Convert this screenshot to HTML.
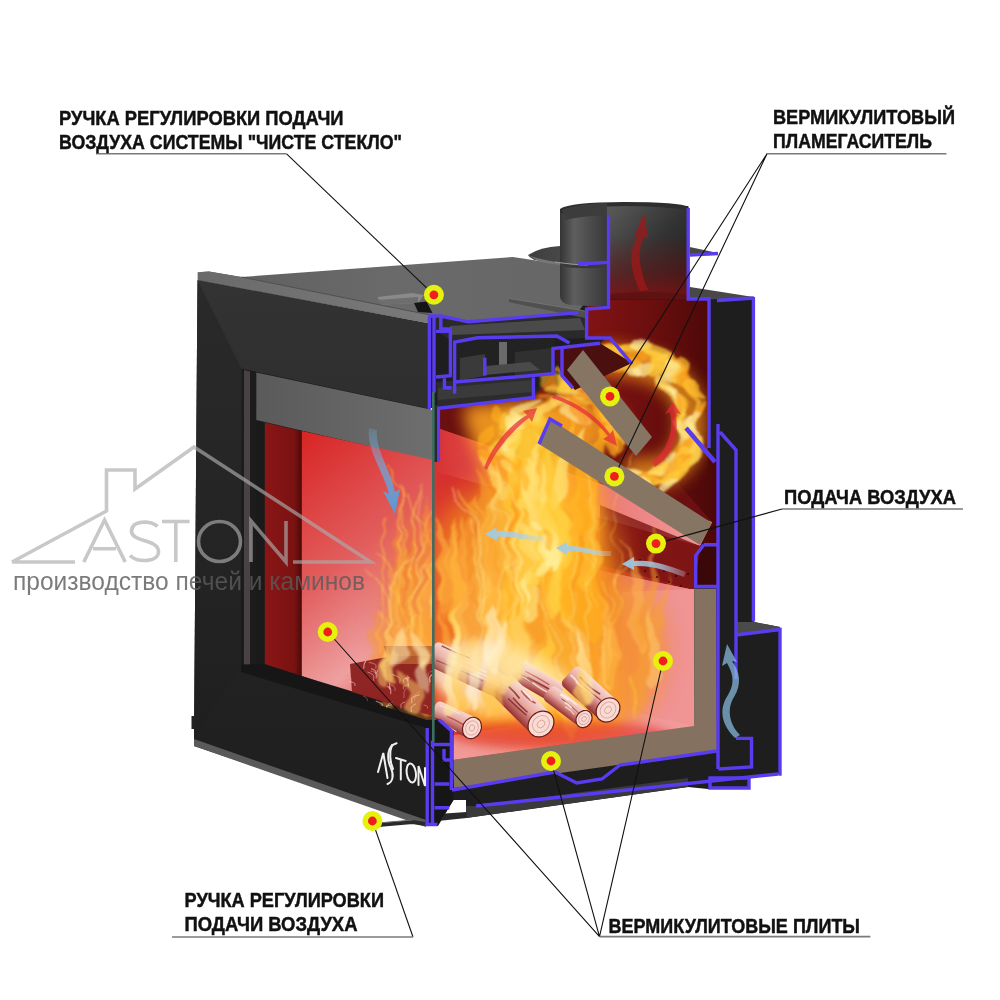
<!DOCTYPE html>
<html><head><meta charset="utf-8">
<style>
html,body{margin:0;padding:0;background:#fff;width:1000px;height:1000px;overflow:hidden}
svg{display:block}
.lb{font-family:"Liberation Sans",sans-serif;font-weight:bold;font-size:19.5px;fill:#111;stroke:#111;stroke-width:0.45}
</style></head><body>
<svg width="1000" height="1000" viewBox="0 0 1000 1000">
<defs>
  <linearGradient id="gFrame" x1="0" y1="0" x2="0" y2="1">
    <stop offset="0" stop-color="#333333"/><stop offset="0.25" stop-color="#2e2e2e"/><stop offset="0.7" stop-color="#222222"/><stop offset="1" stop-color="#1e1e1e"/>
  </linearGradient>
  <linearGradient id="gFrameL" x1="0" y1="0" x2="0" y2="1">
    <stop offset="0" stop-color="#2a2a2a"/><stop offset="0.6" stop-color="#242424"/><stop offset="1" stop-color="#1f1f1f"/>
  </linearGradient>
  <linearGradient id="gTop" x1="0" y1="0" x2="1" y2="0">
    <stop offset="0" stop-color="#5e5e5e"/><stop offset="0.5" stop-color="#6a6a6a"/><stop offset="1" stop-color="#666666"/>
  </linearGradient>
  <linearGradient id="gRim" x1="0" y1="0" x2="1" y2="0"><stop offset="0" stop-color="#6a6a6a"/><stop offset="1" stop-color="#7a7a7a"/></linearGradient>
  <linearGradient id="gPlate" x1="0" y1="0" x2="1" y2="0"><stop offset="0" stop-color="#d83434"/><stop offset="0.45" stop-color="#e87070"/><stop offset="1" stop-color="#f29a9a"/></linearGradient>
  <linearGradient id="gArrowB" x1="0" y1="0" x2="0" y2="1"><stop offset="0" stop-color="#7ac0e8" stop-opacity="0.2"/><stop offset="0.5" stop-color="#68aee4" stop-opacity="0.7"/><stop offset="1" stop-color="#4a9ee0" stop-opacity="0.95"/></linearGradient>
  <linearGradient id="gChWall" x1="0" y1="0" x2="1" y2="0"><stop offset="0" stop-color="#d83232"/><stop offset="0.6" stop-color="#e05858"/><stop offset="1" stop-color="#e88a88"/></linearGradient>
  <linearGradient id="gChan" x1="0" y1="0" x2="1" y2="0"><stop offset="0" stop-color="#d83030"/><stop offset="0.5" stop-color="#c02424"/><stop offset="1" stop-color="#8a1616"/></linearGradient>
  <linearGradient id="gArrowH" x1="0" y1="0" x2="1" y2="0"><stop offset="0" stop-color="#9ccae8" stop-opacity="0.95"/><stop offset="0.6" stop-color="#a8d0ec" stop-opacity="0.75"/><stop offset="1" stop-color="#c0dcf0" stop-opacity="0.25"/></linearGradient>
  <linearGradient id="gLintel" x1="0" y1="0" x2="1" y2="0">
    <stop offset="0" stop-color="#5a5a5a"/><stop offset="1" stop-color="#6e6e6e"/>
  </linearGradient>
  <linearGradient id="gBack" x1="0" y1="0" x2="0.35" y2="1">
    <stop offset="0" stop-color="#d82424"/><stop offset="0.5" stop-color="#e25e5e"/><stop offset="0.85" stop-color="#eea0a0"/><stop offset="1" stop-color="#e86a6a"/>
  </linearGradient>
  <linearGradient id="gSide" x1="0" y1="0" x2="1" y2="0">
    <stop offset="0" stop-color="#8a1616"/><stop offset="0.8" stop-color="#7a1212"/><stop offset="1" stop-color="#4a0a0a"/>
  </linearGradient>
  <linearGradient id="gPipeL" x1="0" y1="0" x2="1" y2="0">
    <stop offset="0" stop-color="#353535"/><stop offset="0.3" stop-color="#5e5e5e"/><stop offset="1" stop-color="#383838"/>
  </linearGradient>
  <linearGradient id="gPipeIn" x1="0" y1="0" x2="1" y2="1">
    <stop offset="0" stop-color="#5a5a5a"/><stop offset="0.5" stop-color="#333333"/><stop offset="1" stop-color="#1a1a1a"/>
  </linearGradient>
  <linearGradient id="gPipeRed" x1="0" y1="0" x2="0" y2="1">
    <stop offset="0" stop-color="#7a1010" stop-opacity="0"/><stop offset="0.6" stop-color="#7a1010" stop-opacity="0.45"/><stop offset="1" stop-color="#8a1212" stop-opacity="0.85"/>
  </linearGradient>
  <linearGradient id="gRedCh" x1="0" y1="0" x2="1" y2="0">
    <stop offset="0" stop-color="#8a1616"/><stop offset="0.6" stop-color="#6a0e0e"/><stop offset="1" stop-color="#4a0808"/>
  </linearGradient>
  <linearGradient id="gPinkWall" x1="0" y1="0" x2="1" y2="0">
    <stop offset="0" stop-color="#dc3c3c"/><stop offset="0.6" stop-color="#e46a6a"/><stop offset="1" stop-color="#ea8c8c"/>
  </linearGradient>
  <linearGradient id="gHouse" x1="0" y1="0" x2="1" y2="0">
    <stop offset="0" stop-color="#b4b4b4"/><stop offset="1" stop-color="#d8d8d8"/>
  </linearGradient>
  <filter id="b14" x="-50%" y="-50%" width="200%" height="200%"><feGaussianBlur stdDeviation="14"/></filter>
  <filter id="b8" x="-50%" y="-50%" width="200%" height="200%"><feGaussianBlur stdDeviation="8"/></filter>
  <filter id="b4" x="-50%" y="-50%" width="200%" height="200%"><feGaussianBlur stdDeviation="4"/></filter>
  <filter id="b2" x="-10%" y="-10%" width="120%" height="120%"><feGaussianBlur stdDeviation="1.8"/></filter>
  <filter id="b1" x="-50%" y="-50%" width="200%" height="200%"><feGaussianBlur stdDeviation="0.8"/></filter>
  <filter id="flame" x="-30%" y="-30%" width="160%" height="160%">
    <feTurbulence type="fractalNoise" baseFrequency="0.015 0.035" numOctaves="2" seed="5" result="n"/>
    <feDisplacementMap in="SourceGraphic" in2="n" scale="26" xChannelSelector="R" yChannelSelector="G"/>
    <feGaussianBlur stdDeviation="1.2"/>
  </filter>
  <filter id="flame2" x="-30%" y="-30%" width="160%" height="160%">
    <feTurbulence type="fractalNoise" baseFrequency="0.012 0.025" numOctaves="1" seed="9" result="n"/>
    <feDisplacementMap in="SourceGraphic" in2="n" scale="22" xChannelSelector="R" yChannelSelector="G"/>
    <feGaussianBlur stdDeviation="0.6"/>
  </filter>
  <linearGradient id="gLog" x1="0" y1="0" x2="0" y2="1"><stop offset="0" stop-color="#f8d8d0"/><stop offset="0.45" stop-color="#e6a8a0"/><stop offset="1" stop-color="#983030"/></linearGradient>
  <clipPath id="clipCh"><polygon points="434,406 533.4,397 533.4,377 553,374 562,348 600,343 610,336 587,338 587,300 708,299 708,545 694,545 694,728 454,762 434,762"/></clipPath>
  <clipPath id="clipFront"><polygon points="301,430.5 433,459 433,722 262,668 262,422"/></clipPath>
</defs>

<g id="body">
  <polygon points="197.6,272.2 209,271.4 241.4,277 512.8,257 559.6,264 590,300 577.6,312.4 467.8,321.8 440.8,315.5 430,316.5" fill="url(#gTop)"/>
  <polygon points="197.6,272.2 209,271.4 241.4,277 430,315 430,323.5 197.6,280.6" fill="url(#gRim)"/><path d="M241.4,277 L430,315" stroke="#505050" stroke-width="1" fill="none"/>
  <polygon points="377.5,297 412,293 424,295 418,303 382,304.5" fill="#8a8a8a"/>
  <polygon points="377.5,300 418,297 418,303 382,304.5" fill="#6e6e6e"/>
  <polygon points="414,303 426.5,301.5 432.5,313 418,312" fill="#151515"/>
  <polygon points="197.5,280 430,323.5 430,826 194,746 194,739" fill="url(#gFrame)"/>
  <polygon points="197.5,280 241.6,368.7 241,664.6 194,739" fill="url(#gFrameL)"/>
  <polygon points="194,739 426,820 426,827 194,746" fill="#5a5a5a"/>
  <polygon points="191.5,716 194.3,716 194.3,729 191.5,729" fill="#222"/>
  <polygon points="241.6,368.7 430,409 430,720 241,664.6" fill="#1a1a1a"/>
  <polygon points="242,369 256,372 256,668 242,665" fill="#1c1c1c"/><polygon points="244,370 250,371.5 250,666 244,665" fill="#4a4242"/>
  <polygon points="256.3,372.4 433,410 433,461 256.3,420" fill="url(#gLintel)"/>
  <polygon points="264.8,422.4 301.8,431 301.8,676 264.8,664" fill="url(#gSide)"/>
  <polygon points="301.8,431 433,460 433,722 301.8,676" fill="url(#gBack)"/>
  <polygon points="262,664 433,716 433,730 241,672 241,664.6" fill="#161616"/>
</g>

<g id="cut">
  <polygon points="430,316 440.8,315.5 467.8,321.8 577.6,312.4 587,300 688,290 754,298 754,622 780,627 780,774 749,778 749,789 708,789 688,787 466,818 466,800 453.5,800 438,826 426,826 426,718 434,722 434,408 430,408" fill="#1e1e1e"/>
  <polygon points="688,287.5 753.4,298 709,299 688,299" fill="#4e4e4e"/>
  <!-- red upper chamber -->
  <polygon points="587,300 708,299 708,448 717,462 717,588 694,588 694,545 640,470 560,395 562,348 600,343 610,336 587,338" fill="url(#gRedCh)"/>
  <polygon points="703.8,544.8 717,544.8 717,587 695.7,587 695.7,555.6" fill="#3a0808"/>
  <!-- chamber back wall -->
  <polygon points="434,406 533.4,397 560,392 700,520 694,545 694,728 454,762 434,762" fill="url(#gChWall)"/>
  <!-- ceiling dark red strip -->
  <polygon points="437,406 533.4,397 553,374 560,392 640,440 712,522 437,428" fill="#6a1010"/>
  <!-- deflector plate pink -->
  <polygon points="437,428 712,522 700,546 437,472" fill="url(#gPlate)"/>
  <!-- air channel -->
  <polygon points="437,472 700,546 694,590 437,537" fill="url(#gChan)"/>
  <polygon points="600,505 700,546 696,555 696,590 600,565" fill="#7a1414" opacity="0.8"/>
  <!-- lower back wall -->
  <polygon points="437,537 694,590 694,728 454,762 437,762" fill="url(#gPinkWall)"/>
  <!-- right vermiculite inner face -->
  <polygon points="622,592 694.3,589 694,726 622,708" fill="#f09494"/>
  <!-- floor -->
  <polygon points="437,738 622,708 694,726 454,760 437,760" fill="#f29a9a"/>
<g clip-path="url(#clipCh)">
<ellipse cx="545" cy="650" rx="115" ry="95" fill="#f07a20" opacity="0.8" filter="url(#b14)"/>
<ellipse cx="470" cy="650" rx="40" ry="80" fill="#f07a20" opacity="0.6" filter="url(#b14)"/>
<ellipse cx="525" cy="560" rx="95" ry="85" fill="#f5901e" opacity="0.75" filter="url(#b14)"/>
<path d="M470,730 C455,640 500,580 490,500 C485,455 460,430 465,405 L580,400 C585,440 610,480 600,545 C592,610 630,660 620,730 Z" fill="#ffa820" opacity="0.85" filter="url(#b8)"/>
<path d="M505,700 C500,630 540,580 525,510 C518,470 500,440 505,415 L550,412 C555,450 570,490 562,545 C556,600 585,650 578,700 Z" fill="#ffd23a" opacity="0.8" filter="url(#b8)"/>
<ellipse cx="585" cy="425" rx="40" ry="26" fill="#f59a20" opacity="0.85" filter="url(#b8)"/>
<path d="M598,360 Q700,362 690,435 Q684,482 625,472" fill="none" stroke="#f09a1c" stroke-width="30" opacity="0.75" filter="url(#b8)"/>
<ellipse cx="630" cy="650" rx="35" ry="70" fill="#f7a040" opacity="0.5" filter="url(#b8)"/>
<g filter="url(#flame)"><path d="M505.1,635.0 C494.3,630.4 497.9,569.6 506.8,510.3 C513.2,569.6 515.8,630.4 505.1,635.0 Z" fill="#ffe070" opacity="0.6"/>
<path d="M549.1,729.9 C538.2,725.3 540.1,684.1 545.0,644.4 C555.6,684.1 560.0,725.3 549.1,729.9 Z" fill="#ffb020" opacity="0.6"/>
<path d="M465.4,669.6 C454.1,664.7 453.2,595.9 451.6,528.6 C469.4,595.9 476.8,664.7 465.4,669.6 Z" fill="#ffc83a" opacity="0.6"/>
<path d="M548.1,665.5 C537.7,661.1 546.1,585.7 566.0,511.7 C560.9,585.7 558.5,661.1 548.1,665.5 Z" fill="#ffe070" opacity="0.6"/>
<path d="M521.3,687.2 C504.4,680.0 511.9,621.9 530.4,566.2 C536.0,621.9 538.1,680.0 521.3,687.2 Z" fill="#ffc83a" opacity="0.6"/>
<path d="M548.9,699.4 C532.2,692.3 530.4,643.1 527.0,596.3 C554.2,643.1 565.6,692.3 548.9,699.4 Z" fill="#ffc83a" opacity="0.6"/>
<path d="M555.2,683.2 C535.6,674.9 540.7,618.1 553.5,564.2 C568.7,618.1 574.8,674.9 555.2,683.2 Z" fill="#f89a28" opacity="0.6"/>
<path d="M511.5,652.3 C491.8,643.9 491.2,603.0 490.6,564.9 C519.2,603.0 531.1,643.9 511.5,652.3 Z" fill="#ffe070" opacity="0.6"/>
<path d="M539.3,727.1 C525.9,721.3 536.9,656.6 563.3,593.7 C556.1,656.6 552.7,721.3 539.3,727.1 Z" fill="#ffc83a" opacity="0.6"/>
<path d="M537.0,642.9 C515.5,633.7 520.5,585.2 533.1,539.8 C551.3,585.2 558.6,633.7 537.0,642.9 Z" fill="#ffc83a" opacity="0.6"/>
<path d="M580.0,689.5 C566.2,683.6 573.1,612.2 589.7,542.8 C592.7,612.2 593.7,683.6 580.0,689.5 Z" fill="#f89a28" opacity="0.6"/>
<path d="M548.6,679.4 C526.9,670.1 532.7,599.2 547.3,531.4 C563.7,599.2 570.3,670.1 548.6,679.4 Z" fill="#ffc83a" opacity="0.6"/>
<path d="M460.3,710.4 C438.0,700.9 449.2,638.6 476.4,579.4 C481.1,638.6 482.6,700.9 460.3,710.4 Z" fill="#ffe070" opacity="0.6"/>
<path d="M571.8,733.3 C550.2,724.0 554.2,675.3 564.6,629.6 C585.1,675.3 593.5,724.0 571.8,733.3 Z" fill="#ffc83a" opacity="0.6"/>
<path d="M533.9,648.2 C514.8,640.0 518.8,594.3 528.8,551.4 C546.0,594.3 553.0,640.0 533.9,648.2 Z" fill="#f89a28" opacity="0.6"/>
<path d="M463.7,678.1 C442.8,669.1 453.5,611.4 479.7,556.7 C483.4,611.4 484.6,669.1 463.7,678.1 Z" fill="#ffe070" opacity="0.6"/>
<path d="M570.1,741.6 C555.5,735.4 555.6,672.6 556.6,611.9 C576.5,672.6 584.7,735.4 570.1,741.6 Z" fill="#ffc83a" opacity="0.6"/>
<path d="M480.0,648.1 C464.0,641.3 469.9,598.5 484.4,558.0 C492.7,598.5 495.9,641.3 480.0,648.1 Z" fill="#ffe070" opacity="0.6"/>
<path d="M497.9,638.2 C480.4,630.7 482.7,574.2 488.9,520.1 C507.7,574.2 515.4,630.7 497.9,638.2 Z" fill="#ffb020" opacity="0.6"/>
<path d="M567.4,684.9 C549.1,677.1 547.6,616.6 545.1,558.9 C573.8,616.6 585.7,677.1 567.4,684.9 Z" fill="#f89a28" opacity="0.6"/>
<path d="M517.7,667.7 C502.8,661.4 502.4,607.6 502.2,555.9 C523.6,607.6 532.5,661.4 517.7,667.7 Z" fill="#ffb020" opacity="0.6"/>
<path d="M524.9,630.1 C513.8,625.3 518.0,566.7 528.2,509.7 C533.8,566.7 536.0,625.3 524.9,630.1 Z" fill="#ffc83a" opacity="0.6"/>
<path d="M611.3,693.8 C598.9,688.5 600.6,653.6 605.1,620.4 C618.3,653.6 623.7,688.5 611.3,693.8 Z" fill="#ffe070" opacity="0.6"/>
<path d="M612.4,691.7 C601.2,686.9 604.2,633.9 611.8,582.6 C620.3,633.9 623.7,686.9 612.4,691.7 Z" fill="#f89a28" opacity="0.6"/>
<path d="M531.7,660.0 C512.4,651.7 521.5,612.5 543.7,576.0 C549.0,612.5 550.9,651.7 531.7,660.0 Z" fill="#f89a28" opacity="0.6"/>
<path d="M590.9,642.6 C569.1,633.3 575.8,599.1 592.3,568.1 C606.9,599.1 612.7,633.3 590.9,642.6 Z" fill="#ffb020" opacity="0.6"/></g>
<g filter="url(#flame)"><path d="M555.9,615.5 C542.8,609.9 549.1,542.7 564.5,477.3 C567.9,542.7 569.0,609.9 555.9,615.5 Z" fill="#ffd040" opacity="0.65"/>
<path d="M556.6,523.2 C544.9,518.2 553.1,466.9 572.9,417.2 C569.8,466.9 568.3,518.2 556.6,523.2 Z" fill="#ffc030" opacity="0.65"/>
<path d="M550.0,576.3 C531.7,568.5 531.5,499.3 531.7,432.8 C557.6,499.3 568.3,568.5 550.0,576.3 Z" fill="#ffe680" opacity="0.65"/>
<path d="M570.0,592.5 C554.4,585.8 556.3,539.5 561.4,495.4 C578.6,539.5 585.6,585.8 570.0,592.5 Z" fill="#ffd040" opacity="0.65"/>
<path d="M588.9,597.5 C576.9,592.3 582.2,536.7 595.2,482.8 C599.3,536.7 600.8,592.3 588.9,597.5 Z" fill="#ffc030" opacity="0.65"/>
<path d="M529.2,622.9 C508.7,614.1 512.1,536.7 521.1,462.1 C541.4,536.7 549.7,614.1 529.2,622.9 Z" fill="#ffe680" opacity="0.65"/>
<path d="M491.2,554.5 C476.0,548.0 489.1,497.3 520.4,448.8 C510.8,497.3 506.4,548.0 491.2,554.5 Z" fill="#ffd040" opacity="0.65"/>
<path d="M532.7,577.6 C522.0,573.0 528.0,504.4 542.4,437.4 C543.3,504.4 543.5,573.0 532.7,577.6 Z" fill="#ffb020" opacity="0.65"/>
<path d="M566.1,591.8 C554.3,586.7 562.8,530.9 583.4,476.8 C579.7,530.9 577.9,586.7 566.1,591.8 Z" fill="#ffc030" opacity="0.65"/>
<path d="M489.5,621.0 C474.6,614.6 483.2,548.6 504.1,484.7 C504.6,548.6 504.5,614.6 489.5,621.0 Z" fill="#ffd040" opacity="0.65"/>
<path d="M559.7,510.4 C548.2,505.4 558.8,463.7 584.0,423.6 C575.2,463.7 571.2,505.4 559.7,510.4 Z" fill="#ffe680" opacity="0.65"/>
<path d="M547.3,575.0 C527.0,566.3 526.6,509.4 526.6,455.5 C555.6,509.4 567.6,566.3 547.3,575.0 Z" fill="#ffe680" opacity="0.65"/>
<path d="M482.4,598.2 C471.4,593.5 479.0,527.9 497.3,463.8 C494.7,527.9 493.3,593.5 482.4,598.2 Z" fill="#ffe680" opacity="0.65"/>
<path d="M527.7,609.0 C515.6,603.8 514.6,534.0 512.8,466.0 C531.9,534.0 539.9,603.8 527.7,609.0 Z" fill="#ffc030" opacity="0.65"/>
<path d="M535.1,596.0 C519.2,589.2 529.8,538.9 555.2,490.8 C552.5,538.9 551.0,589.2 535.1,596.0 Z" fill="#ffd040" opacity="0.65"/>
<path d="M580.1,538.9 C563.8,531.9 575.7,476.2 604.4,422.9 C599.0,476.2 596.4,531.9 580.1,538.9 Z" fill="#ffb020" opacity="0.65"/>
<path d="M571.0,609.5 C559.5,604.6 563.0,562.7 571.6,522.5 C579.4,562.7 582.5,604.6 571.0,609.5 Z" fill="#ffb020" opacity="0.65"/>
<path d="M565.4,571.8 C553.9,566.8 550.8,499.2 543.9,433.1 C567.2,499.2 576.9,566.8 565.4,571.8 Z" fill="#ffd040" opacity="0.65"/></g>
<g filter="url(#flame)"><path d="M473.4,607.0 C459.5,601.1 467.8,551.0 487.6,502.8 C487.5,551.0 487.2,601.1 473.4,607.0 Z" fill="#f8a030" opacity="0.55"/>
<path d="M493.0,571.9 C484.2,568.1 480.7,530.1 472.9,493.4 C493.3,530.1 501.8,568.1 493.0,571.9 Z" fill="#ffb840" opacity="0.55"/>
<path d="M473.7,658.5 C461.0,653.0 466.3,589.3 479.3,527.3 C484.5,589.3 486.4,653.0 473.7,658.5 Z" fill="#f8a030" opacity="0.55"/>
<path d="M481.6,621.8 C468.5,616.2 478.8,565.6 503.6,517.0 C497.5,565.6 494.6,616.2 481.6,621.8 Z" fill="#ffb840" opacity="0.55"/>
<path d="M495.4,674.4 C482.6,669.0 485.0,630.0 491.2,592.9 C503.2,630.0 508.2,669.0 495.4,674.4 Z" fill="#ffb840" opacity="0.55"/>
<path d="M466.5,573.9 C457.4,570.0 462.6,530.3 475.0,491.9 C475.6,530.3 475.6,570.0 466.5,573.9 Z" fill="#f8a030" opacity="0.55"/>
<path d="M493.8,587.0 C479.0,580.7 477.8,523.5 476.0,468.4 C499.1,523.5 508.7,580.7 493.8,587.0 Z" fill="#f8a030" opacity="0.55"/>
<path d="M498.1,593.4 C485.7,588.1 489.1,523.0 497.4,459.7 C506.6,523.0 510.4,588.1 498.1,593.4 Z" fill="#f8a030" opacity="0.55"/>
<path d="M449.7,618.5 C438.0,613.5 436.8,563.7 434.5,515.7 C453.5,563.7 461.4,613.5 449.7,618.5 Z" fill="#ffb840" opacity="0.55"/>
<path d="M445.5,611.3 C432.6,605.8 439.4,562.1 455.7,520.3 C457.8,562.1 458.4,605.8 445.5,611.3 Z" fill="#ffb840" opacity="0.55"/></g>
<g filter="url(#flame)"><path d="M599.8,693.6 C592.2,690.4 600.2,646.3 619.2,603.4 C611.1,646.3 607.5,690.4 599.8,693.6 Z" fill="#ffb850" opacity="0.5"/>
<path d="M657.5,644.2 C650.1,641.0 655.5,605.7 668.6,571.4 C666.1,605.7 664.8,641.0 657.5,644.2 Z" fill="#f8a030" opacity="0.5"/>
<path d="M638.0,715.7 C624.4,709.8 633.6,653.1 655.9,598.4 C653.1,653.1 651.6,709.8 638.0,715.7 Z" fill="#f8a030" opacity="0.5"/>
<path d="M583.4,725.2 C569.6,719.3 568.6,672.4 567.0,627.4 C588.4,672.4 597.3,719.3 583.4,725.2 Z" fill="#ffb850" opacity="0.5"/>
<path d="M642.0,652.9 C632.3,648.8 629.3,591.1 622.6,534.7 C643.0,591.1 651.6,648.8 642.0,652.9 Z" fill="#ffb850" opacity="0.5"/>
<path d="M642.1,642.3 C634.5,639.0 641.0,583.0 656.7,528.0 C652.0,583.0 649.8,639.0 642.1,642.3 Z" fill="#f8a030" opacity="0.5"/>
<path d="M571.0,733.6 C555.1,726.7 561.1,684.8 575.9,645.2 C583.9,684.8 587.0,726.7 571.0,733.6 Z" fill="#ffb850" opacity="0.5"/>
<path d="M617.4,657.6 C608.8,653.9 605.9,623.8 599.4,595.0 C618.2,623.8 626.0,653.9 617.4,657.6 Z" fill="#ffb850" opacity="0.5"/>
<path d="M653.9,694.9 C644.9,691.0 646.8,646.1 651.7,602.5 C659.7,646.1 662.9,691.0 653.9,694.9 Z" fill="#ffd070" opacity="0.5"/>
<path d="M586.0,668.4 C576.6,664.3 573.4,637.3 566.6,611.7 C586.9,637.3 595.5,664.3 586.0,668.4 Z" fill="#ffd070" opacity="0.5"/></g>
<g filter="url(#flame)"><path d="M465.3,722.5 C456.2,718.7 458.2,676.9 463.2,636.5 C471.1,676.9 474.3,718.7 465.3,722.5 Z" fill="#ffb040" opacity="0.55"/>
<path d="M472.8,674.2 C457.7,667.7 459.7,613.8 465.1,562.2 C481.3,613.8 488.0,667.7 472.8,674.2 Z" fill="#f89030" opacity="0.55"/>
<path d="M489.1,648.5 C476.2,643.0 481.5,591.2 494.6,541.2 C500.0,591.2 502.1,643.0 489.1,648.5 Z" fill="#ffb040" opacity="0.55"/>
<path d="M489.5,721.9 C482.4,718.8 485.9,667.7 494.5,617.6 C496.1,667.7 496.6,718.8 489.5,721.9 Z" fill="#ffb040" opacity="0.55"/>
<path d="M461.5,612.5 C451.3,608.1 454.3,561.7 461.8,516.7 C468.9,561.7 471.7,608.1 461.5,612.5 Z" fill="#ffb040" opacity="0.55"/>
<path d="M469.9,688.0 C461.4,684.3 461.1,656.8 460.7,630.4 C473.3,656.8 478.5,684.3 469.9,688.0 Z" fill="#f89030" opacity="0.55"/>
<path d="M453.2,722.0 C441.6,717.1 441.8,661.2 442.9,607.1 C458.4,661.2 464.8,717.1 453.2,722.0 Z" fill="#ffb040" opacity="0.55"/>
<path d="M450.9,626.4 C443.2,623.1 442.7,586.9 442.1,551.8 C453.7,586.9 458.6,623.1 450.9,626.4 Z" fill="#f89030" opacity="0.55"/></g>
<g filter="url(#flame)"><path d="M512.2,692.0 C516.0,674.5 500.8,662.0 531.2,642.0" fill="none" stroke="#ffe890" stroke-width="1.2" opacity="0.45" stroke-linecap="round"/><path d="M477.1,563.8 C473.9,538.1 486.7,519.7 461.1,490.4" fill="none" stroke="#ffd050" stroke-width="1.8" opacity="0.45" stroke-linecap="round"/><path d="M615.1,586.4 C618.5,538.0 604.8,503.5 632.1,448.2" fill="none" stroke="#ffd050" stroke-width="1.2" opacity="0.45" stroke-linecap="round"/><path d="M525.4,727.4 C528.1,707.6 517.4,693.5 538.9,671.0" fill="none" stroke="#ffd050" stroke-width="0.9" opacity="0.45" stroke-linecap="round"/><path d="M610.2,681.6 C609.4,647.8 612.8,623.7 606.0,585.1" fill="none" stroke="#ffd050" stroke-width="1.6" opacity="0.45" stroke-linecap="round"/><path d="M493.7,649.0 C497.7,615.6 481.6,591.8 513.8,553.6" fill="none" stroke="#ffe890" stroke-width="1.6" opacity="0.45" stroke-linecap="round"/><path d="M569.3,711.8 C571.6,671.5 562.3,642.7 580.9,596.7" fill="none" stroke="#ffe890" stroke-width="0.9" opacity="0.45" stroke-linecap="round"/><path d="M477.1,668.3 C475.6,617.4 481.6,581.0 469.7,522.8" fill="none" stroke="#fff2b0" stroke-width="1.4" opacity="0.45" stroke-linecap="round"/><path d="M576.7,666.5 C576.6,626.3 577.1,597.5 576.1,551.6" fill="none" stroke="#ffe890" stroke-width="1.3" opacity="0.45" stroke-linecap="round"/><path d="M481.9,718.5 C477.0,670.0 496.6,635.3 457.4,579.8" fill="none" stroke="#ffd050" stroke-width="0.9" opacity="0.45" stroke-linecap="round"/><path d="M595.3,602.9 C592.4,586.0 603.7,574.0 581.2,554.7" fill="none" stroke="#ffd050" stroke-width="1.6" opacity="0.45" stroke-linecap="round"/><path d="M509.2,670.5 C513.4,638.8 496.8,616.1 530.0,579.9" fill="none" stroke="#ffe890" stroke-width="1.3" opacity="0.45" stroke-linecap="round"/><path d="M586.2,690.4 C587.9,652.6 581.1,625.7 594.8,582.5" fill="none" stroke="#ffe890" stroke-width="1.4" opacity="0.45" stroke-linecap="round"/><path d="M526.4,670.8 C527.9,630.1 522.0,601.0 533.7,554.5" fill="none" stroke="#ffe890" stroke-width="0.8" opacity="0.45" stroke-linecap="round"/><path d="M480.3,605.7 C482.6,565.8 473.4,537.3 491.8,491.8" fill="none" stroke="#ffd050" stroke-width="1.3" opacity="0.45" stroke-linecap="round"/><path d="M590.5,608.5 C593.7,576.6 580.9,553.8 606.5,517.3" fill="none" stroke="#ffd050" stroke-width="1.0" opacity="0.45" stroke-linecap="round"/><path d="M636.3,719.2 C635.8,704.5 637.8,694.0 633.8,677.2" fill="none" stroke="#ffd050" stroke-width="1.8" opacity="0.45" stroke-linecap="round"/><path d="M546.4,605.7 C551.8,583.6 530.4,567.8 573.1,542.6" fill="none" stroke="#ffe890" stroke-width="0.9" opacity="0.45" stroke-linecap="round"/><path d="M485.4,687.1 C483.7,663.0 490.4,645.8 476.9,618.3" fill="none" stroke="#ffd050" stroke-width="1.6" opacity="0.45" stroke-linecap="round"/><path d="M556.5,710.8 C553.3,669.7 566.2,640.3 540.4,593.4" fill="none" stroke="#fff2b0" stroke-width="1.2" opacity="0.45" stroke-linecap="round"/><path d="M497.0,721.5 C495.9,681.3 500.4,652.5 491.4,606.5" fill="none" stroke="#ffd050" stroke-width="0.9" opacity="0.45" stroke-linecap="round"/><path d="M528.5,613.7 C522.5,567.4 546.4,534.3 498.6,481.3" fill="none" stroke="#fff2b0" stroke-width="1.6" opacity="0.45" stroke-linecap="round"/><path d="M490.4,717.5 C495.2,676.0 476.0,646.4 514.5,599.1" fill="none" stroke="#fff2b0" stroke-width="1.1" opacity="0.45" stroke-linecap="round"/><path d="M481.0,626.3 C476.0,578.8 496.3,544.9 455.6,490.6" fill="none" stroke="#fff2b0" stroke-width="1.6" opacity="0.45" stroke-linecap="round"/><path d="M615.2,607.7 C617.2,591.7 609.4,580.3 624.9,562.0" fill="none" stroke="#ffd050" stroke-width="1.7" opacity="0.45" stroke-linecap="round"/><path d="M512.4,605.2 C508.7,571.5 523.6,547.5 493.8,509.0" fill="none" stroke="#fff2b0" stroke-width="1.6" opacity="0.45" stroke-linecap="round"/><path d="M542.7,564.9 C541.5,521.6 546.3,490.7 536.7,441.1" fill="none" stroke="#ffd050" stroke-width="1.3" opacity="0.45" stroke-linecap="round"/><path d="M592.3,568.4 C591.7,526.2 594.1,496.1 589.4,447.9" fill="none" stroke="#ffe890" stroke-width="1.4" opacity="0.45" stroke-linecap="round"/><path d="M518.7,568.3 C514.2,518.6 532.1,483.2 496.3,426.4" fill="none" stroke="#fff2b0" stroke-width="1.2" opacity="0.45" stroke-linecap="round"/><path d="M517.9,603.5 C519.7,561.0 512.4,530.7 527.1,482.2" fill="none" stroke="#fff2b0" stroke-width="1.5" opacity="0.45" stroke-linecap="round"/></g>
<g filter="url(#flame)"><ellipse cx="603.5" cy="349.6" rx="13.5" ry="4.7" transform="rotate(-6.7 603.5 349.6)" fill="#f8a020" opacity="0.7"/><ellipse cx="605.4" cy="365.7" rx="15.9" ry="4.2" transform="rotate(-6.7 605.4 365.7)" fill="#fff0a0" opacity="0.7"/><ellipse cx="609.7" cy="349.2" rx="12.2" ry="5.3" transform="rotate(-7.0 609.7 349.2)" fill="#ffd040" opacity="0.7"/><ellipse cx="610.3" cy="353.7" rx="12.7" ry="2.7" transform="rotate(-7.0 610.3 353.7)" fill="#ffc030" opacity="0.7"/><ellipse cx="619.0" cy="365.9" rx="13.6" ry="4.0" transform="rotate(-5.6 619.0 365.9)" fill="#f8a020" opacity="0.7"/><ellipse cx="618.3" cy="358.6" rx="8.3" ry="3.7" transform="rotate(-5.6 618.3 358.6)" fill="#f8a020" opacity="0.7"/><ellipse cx="626.0" cy="359.9" rx="13.2" ry="5.8" transform="rotate(-2.5 626.0 359.9)" fill="#ffd040" opacity="0.7"/><ellipse cx="625.4" cy="347.0" rx="14.5" ry="2.9" transform="rotate(-2.5 625.4 347.0)" fill="#ffd040" opacity="0.7"/><ellipse cx="633.4" cy="354.1" rx="12.4" ry="3.7" transform="rotate(3.0 633.4 354.1)" fill="#f8a020" opacity="0.7"/><ellipse cx="633.8" cy="346.8" rx="13.3" ry="4.1" transform="rotate(3.0 633.8 346.8)" fill="#ffc030" opacity="0.7"/><ellipse cx="642.0" cy="346.0" rx="9.6" ry="4.9" transform="rotate(11.2 642.0 346.0)" fill="#fff0a0" opacity="0.7"/><ellipse cx="637.7" cy="367.5" rx="8.6" ry="4.5" transform="rotate(11.2 637.7 367.5)" fill="#fff0a0" opacity="0.7"/><ellipse cx="643.5" cy="365.1" rx="9.6" ry="5.7" transform="rotate(18.8 643.5 365.1)" fill="#fff0a0" opacity="0.7"/><ellipse cx="646.7" cy="355.6" rx="10.9" ry="4.1" transform="rotate(18.8 646.7 355.6)" fill="#f8a020" opacity="0.7"/><ellipse cx="653.7" cy="356.1" rx="11.9" ry="3.4" transform="rotate(24.5 653.7 356.1)" fill="#ffd040" opacity="0.7"/><ellipse cx="655.2" cy="352.6" rx="13.7" ry="5.9" transform="rotate(24.5 655.2 352.6)" fill="#ffd040" opacity="0.7"/><ellipse cx="657.6" cy="362.8" rx="12.4" ry="5.1" transform="rotate(29.7 657.6 362.8)" fill="#ffc030" opacity="0.7"/><ellipse cx="656.6" cy="364.4" rx="10.5" ry="5.9" transform="rotate(29.7 656.6 364.4)" fill="#ffd040" opacity="0.7"/><ellipse cx="667.2" cy="360.0" rx="9.4" ry="3.7" transform="rotate(34.8 667.2 360.0)" fill="#ffe070" opacity="0.7"/><ellipse cx="664.9" cy="363.3" rx="12.8" ry="3.6" transform="rotate(34.8 664.9 363.3)" fill="#ffd040" opacity="0.7"/><ellipse cx="672.8" cy="363.9" rx="15.4" ry="3.1" transform="rotate(40.0 672.8 363.9)" fill="#f8a020" opacity="0.7"/><ellipse cx="669.6" cy="367.7" rx="13.5" ry="4.9" transform="rotate(40.0 669.6 367.7)" fill="#ffc030" opacity="0.7"/><ellipse cx="673.6" cy="372.4" rx="15.9" ry="5.9" transform="rotate(46.0 673.6 372.4)" fill="#fff0a0" opacity="0.7"/><ellipse cx="680.4" cy="365.9" rx="10.8" ry="4.3" transform="rotate(46.0 680.4 365.9)" fill="#ffc030" opacity="0.7"/><ellipse cx="667.5" cy="384.8" rx="10.0" ry="4.5" transform="rotate(52.6 667.5 384.8)" fill="#f8a020" opacity="0.7"/><ellipse cx="670.0" cy="382.8" rx="14.2" ry="4.2" transform="rotate(52.6 670.0 382.8)" fill="#ffe070" opacity="0.7"/><ellipse cx="688.3" cy="377.7" rx="10.1" ry="3.5" transform="rotate(58.5 688.3 377.7)" fill="#f8a020" opacity="0.7"/><ellipse cx="684.3" cy="380.1" rx="11.2" ry="5.5" transform="rotate(58.5 684.3 380.1)" fill="#ffc030" opacity="0.7"/><ellipse cx="671.6" cy="393.7" rx="14.0" ry="4.2" transform="rotate(63.6 671.6 393.7)" fill="#ffe070" opacity="0.7"/><ellipse cx="689.7" cy="384.7" rx="13.2" ry="5.7" transform="rotate(63.6 689.7 384.7)" fill="#f8a020" opacity="0.7"/><ellipse cx="694.9" cy="389.8" rx="9.7" ry="5.4" transform="rotate(68.0 694.9 389.8)" fill="#ffc030" opacity="0.7"/><ellipse cx="676.0" cy="397.5" rx="12.8" ry="4.0" transform="rotate(68.0 676.0 397.5)" fill="#fff0a0" opacity="0.7"/><ellipse cx="677.3" cy="402.5" rx="11.8" ry="3.0" transform="rotate(72.0 677.3 402.5)" fill="#fff0a0" opacity="0.7"/><ellipse cx="691.6" cy="397.9" rx="14.1" ry="2.5" transform="rotate(72.0 691.6 397.9)" fill="#ffc030" opacity="0.7"/><ellipse cx="677.4" cy="407.6" rx="8.2" ry="4.6" transform="rotate(76.3 677.4 407.6)" fill="#ffc030" opacity="0.7"/><ellipse cx="679.8" cy="407.0" rx="12.7" ry="3.4" transform="rotate(76.3 679.8 407.0)" fill="#f8a020" opacity="0.7"/><ellipse cx="683.1" cy="411.4" rx="14.5" ry="3.0" transform="rotate(81.2 683.1 411.4)" fill="#ffc030" opacity="0.7"/><ellipse cx="698.7" cy="409.0" rx="8.8" ry="2.6" transform="rotate(81.2 698.7 409.0)" fill="#f8a020" opacity="0.7"/><ellipse cx="682.9" cy="416.5" rx="8.6" ry="2.9" transform="rotate(86.0 682.9 416.5)" fill="#ffe070" opacity="0.7"/><ellipse cx="698.6" cy="415.4" rx="12.3" ry="3.6" transform="rotate(86.0 698.6 415.4)" fill="#f8a020" opacity="0.7"/><ellipse cx="680.6" cy="421.6" rx="13.0" ry="3.1" transform="rotate(90.4 680.6 421.6)" fill="#f8a020" opacity="0.7"/><ellipse cx="697.0" cy="421.7" rx="14.0" ry="5.1" transform="rotate(90.4 697.0 421.7)" fill="#fff0a0" opacity="0.7"/><ellipse cx="684.6" cy="426.9" rx="15.0" ry="5.2" transform="rotate(94.5 684.6 426.9)" fill="#ffd040" opacity="0.7"/><ellipse cx="692.3" cy="427.5" rx="14.9" ry="3.9" transform="rotate(94.5 692.3 427.5)" fill="#fff0a0" opacity="0.7"/><ellipse cx="696.7" cy="433.9" rx="13.7" ry="3.4" transform="rotate(98.7 696.7 433.9)" fill="#fff0a0" opacity="0.7"/><ellipse cx="693.4" cy="433.4" rx="8.3" ry="3.9" transform="rotate(98.7 693.4 433.4)" fill="#ffe070" opacity="0.7"/><ellipse cx="682.7" cy="436.8" rx="15.9" ry="5.4" transform="rotate(103.1 682.7 436.8)" fill="#fff0a0" opacity="0.7"/><ellipse cx="688.2" cy="438.1" rx="12.6" ry="4.4" transform="rotate(103.1 688.2 438.1)" fill="#ffd040" opacity="0.7"/><ellipse cx="686.4" cy="443.1" rx="13.9" ry="5.9" transform="rotate(107.7 686.4 443.1)" fill="#ffe070" opacity="0.7"/><ellipse cx="691.4" cy="444.6" rx="13.0" ry="5.2" transform="rotate(107.7 691.4 444.6)" fill="#ffc030" opacity="0.7"/><ellipse cx="694.4" cy="452.2" rx="14.5" ry="5.9" transform="rotate(112.1 694.4 452.2)" fill="#ffe070" opacity="0.7"/><ellipse cx="694.4" cy="452.2" rx="13.3" ry="4.0" transform="rotate(112.1 694.4 452.2)" fill="#ffd040" opacity="0.7"/><ellipse cx="679.2" cy="451.6" rx="13.0" ry="5.3" transform="rotate(116.5 679.2 451.6)" fill="#f8a020" opacity="0.7"/><ellipse cx="682.4" cy="453.1" rx="15.6" ry="4.9" transform="rotate(116.5 682.4 453.1)" fill="#f8a020" opacity="0.7"/><ellipse cx="680.5" cy="458.2" rx="12.1" ry="5.6" transform="rotate(121.0 680.5 458.2)" fill="#ffd040" opacity="0.7"/><ellipse cx="685.6" cy="461.3" rx="8.4" ry="4.0" transform="rotate(121.0 685.6 461.3)" fill="#ffc030" opacity="0.7"/><ellipse cx="681.4" cy="465.4" rx="12.7" ry="3.9" transform="rotate(126.2 681.4 465.4)" fill="#f8a020" opacity="0.7"/><ellipse cx="677.9" cy="462.8" rx="9.9" ry="3.8" transform="rotate(126.2 677.9 462.8)" fill="#f8a020" opacity="0.7"/><ellipse cx="678.9" cy="470.4" rx="15.3" ry="4.8" transform="rotate(131.8 678.9 470.4)" fill="#ffd040" opacity="0.7"/><ellipse cx="674.4" cy="466.3" rx="11.9" ry="5.0" transform="rotate(131.8 674.4 466.3)" fill="#ffc030" opacity="0.7"/><ellipse cx="666.1" cy="464.5" rx="13.0" ry="5.2" transform="rotate(137.2 666.1 464.5)" fill="#fff0a0" opacity="0.7"/><ellipse cx="667.4" cy="465.9" rx="13.5" ry="3.4" transform="rotate(137.2 667.4 465.9)" fill="#f8a020" opacity="0.7"/><ellipse cx="668.6" cy="474.7" rx="12.9" ry="5.4" transform="rotate(142.6 668.6 474.7)" fill="#ffd040" opacity="0.7"/><ellipse cx="671.9" cy="479.0" rx="9.6" ry="5.6" transform="rotate(142.6 671.9 479.0)" fill="#ffc030" opacity="0.7"/><ellipse cx="668.1" cy="483.6" rx="9.4" ry="4.3" transform="rotate(148.7 668.1 483.6)" fill="#fff0a0" opacity="0.7"/><ellipse cx="657.5" cy="466.2" rx="13.9" ry="4.1" transform="rotate(148.7 657.5 466.2)" fill="#ffd040" opacity="0.7"/><ellipse cx="654.0" cy="466.7" rx="9.3" ry="4.0" transform="rotate(155.7 654.0 466.7)" fill="#ffe070" opacity="0.7"/><ellipse cx="660.1" cy="480.3" rx="12.7" ry="3.2" transform="rotate(155.7 660.1 480.3)" fill="#ffd040" opacity="0.7"/><ellipse cx="651.5" cy="468.7" rx="10.6" ry="3.4" transform="rotate(164.1 651.5 468.7)" fill="#ffc030" opacity="0.7"/><ellipse cx="651.8" cy="469.9" rx="12.1" ry="3.3" transform="rotate(164.1 651.8 469.9)" fill="#ffe070" opacity="0.7"/><ellipse cx="649.6" cy="474.8" rx="9.3" ry="3.9" transform="rotate(175.5 649.6 474.8)" fill="#f8a020" opacity="0.7"/><ellipse cx="650.1" cy="481.5" rx="12.9" ry="3.5" transform="rotate(175.5 650.1 481.5)" fill="#ffc030" opacity="0.7"/><ellipse cx="645.5" cy="475.9" rx="13.0" ry="2.8" transform="rotate(-172.9 645.5 475.9)" fill="#ffc030" opacity="0.7"/><ellipse cx="643.6" cy="490.9" rx="14.5" ry="5.8" transform="rotate(-172.9 643.6 490.9)" fill="#ffe070" opacity="0.7"/><ellipse cx="636.4" cy="489.8" rx="12.0" ry="2.6" transform="rotate(-165.5 636.4 489.8)" fill="#fff0a0" opacity="0.7"/><ellipse cx="639.0" cy="480.0" rx="11.6" ry="6.0" transform="rotate(-165.5 639.0 480.0)" fill="#fff0a0" opacity="0.7"/><ellipse cx="630.8" cy="484.9" rx="15.8" ry="3.2" transform="rotate(-161.6 630.8 484.9)" fill="#ffe070" opacity="0.7"/><ellipse cx="636.5" cy="467.9" rx="11.0" ry="3.0" transform="rotate(-161.6 636.5 467.9)" fill="#f8a020" opacity="0.7"/><ellipse cx="628.2" cy="474.2" rx="8.4" ry="3.2" transform="rotate(-159.8 628.2 474.2)" fill="#f8a020" opacity="0.7"/><ellipse cx="631.2" cy="466.3" rx="10.0" ry="4.5" transform="rotate(-159.8 631.2 466.3)" fill="#fff0a0" opacity="0.7"/><ellipse cx="560.0" cy="591.5" rx="15.6" ry="6.6" transform="rotate(-91.3 560.0 591.5)" fill="#ffd040" opacity="0.6"/><ellipse cx="527.3" cy="592.2" rx="10.5" ry="4.5" transform="rotate(-91.3 527.3 592.2)" fill="#fff0a0" opacity="0.6"/><ellipse cx="531.3" cy="580.7" rx="9.5" ry="4.8" transform="rotate(-91.6 531.3 580.7)" fill="#ffe070" opacity="0.6"/><ellipse cx="548.9" cy="580.2" rx="15.2" ry="3.4" transform="rotate(-91.6 548.9 580.2)" fill="#ffb020" opacity="0.6"/><ellipse cx="541.2" cy="567.1" rx="12.1" ry="5.9" transform="rotate(-93.9 541.2 567.1)" fill="#fff0a0" opacity="0.6"/><ellipse cx="553.8" cy="566.2" rx="9.6" ry="3.1" transform="rotate(-93.9 553.8 566.2)" fill="#fff0a0" opacity="0.6"/><ellipse cx="548.3" cy="552.1" rx="13.0" ry="6.9" transform="rotate(-98.5 548.3 552.1)" fill="#fff0a0" opacity="0.6"/><ellipse cx="545.0" cy="552.6" rx="14.9" ry="6.9" transform="rotate(-98.5 545.0 552.6)" fill="#fff0a0" opacity="0.6"/><ellipse cx="545.6" cy="538.4" rx="10.5" ry="3.3" transform="rotate(-106.1 545.6 538.4)" fill="#ffb020" opacity="0.6"/><ellipse cx="528.9" cy="543.2" rx="11.9" ry="6.2" transform="rotate(-106.1 528.9 543.2)" fill="#ffe070" opacity="0.6"/><ellipse cx="524.9" cy="532.3" rx="9.4" ry="4.3" transform="rotate(-113.6 524.9 532.3)" fill="#ffe070" opacity="0.6"/><ellipse cx="538.1" cy="526.5" rx="8.7" ry="4.7" transform="rotate(-113.6 538.1 526.5)" fill="#fff0a0" opacity="0.6"/><ellipse cx="543.1" cy="507.7" rx="10.2" ry="5.4" transform="rotate(-117.8 543.1 507.7)" fill="#ffd040" opacity="0.6"/><ellipse cx="524.9" cy="517.2" rx="10.3" ry="4.2" transform="rotate(-117.8 524.9 517.2)" fill="#ffb020" opacity="0.6"/><ellipse cx="523.7" cy="501.7" rx="10.1" ry="3.4" transform="rotate(-119.3 523.7 501.7)" fill="#ffd040" opacity="0.6"/><ellipse cx="528.6" cy="498.9" rx="14.6" ry="4.0" transform="rotate(-119.3 528.6 498.9)" fill="#ffe070" opacity="0.6"/><ellipse cx="528.7" cy="483.6" rx="12.7" ry="6.8" transform="rotate(-118.2 528.7 483.6)" fill="#ffe070" opacity="0.6"/><ellipse cx="513.8" cy="491.6" rx="8.3" ry="5.5" transform="rotate(-118.2 513.8 491.6)" fill="#ffb020" opacity="0.6"/><ellipse cx="494.6" cy="487.5" rx="14.5" ry="5.7" transform="rotate(-116.1 494.6 487.5)" fill="#ffe070" opacity="0.6"/><ellipse cx="519.9" cy="475.2" rx="15.6" ry="5.2" transform="rotate(-116.1 519.9 475.2)" fill="#ffb020" opacity="0.6"/><ellipse cx="513.7" cy="466.7" rx="10.8" ry="6.9" transform="rotate(-115.3 513.7 466.7)" fill="#ffb020" opacity="0.6"/><ellipse cx="505.3" cy="470.7" rx="8.3" ry="4.1" transform="rotate(-115.3 505.3 470.7)" fill="#ffe070" opacity="0.6"/><ellipse cx="509.8" cy="458.2" rx="11.7" ry="4.2" transform="rotate(-114.5 509.8 458.2)" fill="#ffd040" opacity="0.6"/><ellipse cx="488.5" cy="467.9" rx="12.2" ry="3.7" transform="rotate(-114.5 488.5 467.9)" fill="#ffe070" opacity="0.6"/><ellipse cx="489.8" cy="457.3" rx="11.4" ry="6.6" transform="rotate(-110.5 489.8 457.3)" fill="#ffb020" opacity="0.6"/><ellipse cx="507.0" cy="450.9" rx="13.3" ry="4.7" transform="rotate(-110.5 507.0 450.9)" fill="#ffe070" opacity="0.6"/><ellipse cx="509.7" cy="443.9" rx="13.5" ry="4.7" transform="rotate(-102.4 509.7 443.9)" fill="#ffe070" opacity="0.6"/><ellipse cx="497.5" cy="446.6" rx="11.4" ry="4.2" transform="rotate(-102.4 497.5 446.6)" fill="#ffd040" opacity="0.6"/><ellipse cx="506.8" cy="439.7" rx="8.9" ry="5.5" transform="rotate(-91.4 506.8 439.7)" fill="#fff0a0" opacity="0.6"/><ellipse cx="511.7" cy="439.6" rx="13.8" ry="4.7" transform="rotate(-91.4 511.7 439.6)" fill="#ffe070" opacity="0.6"/><ellipse cx="511.6" cy="436.0" rx="8.6" ry="5.2" transform="rotate(-80.5 511.6 436.0)" fill="#ffd040" opacity="0.6"/><ellipse cx="486.1" cy="431.8" rx="12.5" ry="4.9" transform="rotate(-80.5 486.1 431.8)" fill="#ffb020" opacity="0.6"/><ellipse cx="513.6" cy="433.3" rx="10.2" ry="4.4" transform="rotate(-69.4 513.6 433.3)" fill="#ffd040" opacity="0.6"/><ellipse cx="506.8" cy="430.7" rx="9.1" ry="6.5" transform="rotate(-69.4 506.8 430.7)" fill="#ffe070" opacity="0.6"/><ellipse cx="508.9" cy="427.1" rx="8.2" ry="5.6" transform="rotate(-56.6 508.9 427.1)" fill="#ffb020" opacity="0.6"/><ellipse cx="513.7" cy="430.3" rx="11.4" ry="4.1" transform="rotate(-56.6 513.7 430.3)" fill="#ffe070" opacity="0.6"/><ellipse cx="504.9" cy="416.9" rx="10.4" ry="6.6" transform="rotate(-43.1 504.9 416.9)" fill="#ffd040" opacity="0.6"/><ellipse cx="497.5" cy="409.1" rx="8.5" ry="6.6" transform="rotate(-43.1 497.5 409.1)" fill="#ffb020" opacity="0.6"/><ellipse cx="514.9" cy="420.7" rx="13.4" ry="5.4" transform="rotate(-29.7 514.9 420.7)" fill="#fff0a0" opacity="0.6"/><ellipse cx="513.2" cy="417.7" rx="11.3" ry="6.2" transform="rotate(-29.7 513.2 417.7)" fill="#fff0a0" opacity="0.6"/><ellipse cx="523.3" cy="424.1" rx="10.7" ry="4.6" transform="rotate(-19.4 523.3 424.1)" fill="#ffb020" opacity="0.6"/><ellipse cx="522.5" cy="421.7" rx="13.3" ry="6.0" transform="rotate(-19.4 522.5 421.7)" fill="#fff0a0" opacity="0.6"/><ellipse cx="528.0" cy="407.1" rx="13.5" ry="4.5" transform="rotate(-13.1 528.0 407.1)" fill="#fff0a0" opacity="0.6"/><ellipse cx="531.7" cy="422.9" rx="9.2" ry="4.5" transform="rotate(-13.1 531.7 422.9)" fill="#ffb020" opacity="0.6"/><ellipse cx="541.3" cy="421.1" rx="10.2" ry="6.1" transform="rotate(-8.5 541.3 421.1)" fill="#ffd040" opacity="0.6"/><ellipse cx="540.6" cy="416.5" rx="10.1" ry="6.4" transform="rotate(-8.5 540.6 416.5)" fill="#ffe070" opacity="0.6"/><ellipse cx="550.5" cy="411.8" rx="12.5" ry="4.9" transform="rotate(-4.5 550.5 411.8)" fill="#ffb020" opacity="0.6"/><ellipse cx="550.6" cy="413.5" rx="10.2" ry="4.4" transform="rotate(-4.5 550.6 413.5)" fill="#ffe070" opacity="0.6"/><ellipse cx="559.9" cy="406.4" rx="14.2" ry="3.7" transform="rotate(1.3 559.9 406.4)" fill="#ffb020" opacity="0.6"/><ellipse cx="559.9" cy="406.0" rx="10.9" ry="6.9" transform="rotate(1.3 559.9 406.0)" fill="#ffe070" opacity="0.6"/><ellipse cx="572.5" cy="386.5" rx="9.0" ry="6.0" transform="rotate(8.4 572.5 386.5)" fill="#ffd040" opacity="0.6"/><ellipse cx="572.0" cy="389.9" rx="13.5" ry="6.7" transform="rotate(8.4 572.0 389.9)" fill="#fff0a0" opacity="0.6"/><ellipse cx="580.8" cy="404.0" rx="13.7" ry="5.3" transform="rotate(13.4 580.8 404.0)" fill="#ffd040" opacity="0.6"/><ellipse cx="577.8" cy="416.3" rx="12.8" ry="5.4" transform="rotate(13.4 577.8 416.3)" fill="#fff0a0" opacity="0.6"/><ellipse cx="595.1" cy="391.5" rx="10.8" ry="3.6" transform="rotate(16.0 595.1 391.5)" fill="#ffe070" opacity="0.6"/><ellipse cx="593.4" cy="397.6" rx="11.4" ry="4.3" transform="rotate(16.0 593.4 397.6)" fill="#ffe070" opacity="0.6"/><ellipse cx="551.1" cy="383.7" rx="13.6" ry="5.5" transform="rotate(20.4 551.1 383.7)" fill="#ffb020" opacity="0.6"/><ellipse cx="545.7" cy="398.2" rx="9.8" ry="4.4" transform="rotate(20.4 545.7 398.2)" fill="#f89020" opacity="0.6"/><ellipse cx="561.5" cy="377.2" rx="11.4" ry="3.3" transform="rotate(20.6 561.5 377.2)" fill="#ffb020" opacity="0.6"/><ellipse cx="556.2" cy="391.4" rx="12.4" ry="3.6" transform="rotate(20.6 556.2 391.4)" fill="#ffd040" opacity="0.6"/><ellipse cx="567.0" cy="387.8" rx="13.5" ry="4.6" transform="rotate(22.5 567.0 387.8)" fill="#ffd040" opacity="0.6"/><ellipse cx="565.4" cy="391.8" rx="8.6" ry="5.9" transform="rotate(22.5 565.4 391.8)" fill="#ffd040" opacity="0.6"/><ellipse cx="570.9" cy="400.6" rx="11.6" ry="4.1" transform="rotate(26.4 570.9 400.6)" fill="#f89020" opacity="0.6"/><ellipse cx="577.0" cy="388.3" rx="9.0" ry="4.4" transform="rotate(26.4 577.0 388.3)" fill="#ffb020" opacity="0.6"/><ellipse cx="581.5" cy="397.7" rx="8.4" ry="4.9" transform="rotate(32.9 581.5 397.7)" fill="#ffd040" opacity="0.6"/><ellipse cx="574.3" cy="408.8" rx="8.2" ry="3.5" transform="rotate(32.9 574.3 408.8)" fill="#ffd040" opacity="0.6"/><ellipse cx="590.8" cy="398.3" rx="10.5" ry="4.7" transform="rotate(39.6 590.8 398.3)" fill="#f89020" opacity="0.6"/><ellipse cx="580.4" cy="410.9" rx="11.7" ry="5.0" transform="rotate(39.6 580.4 410.9)" fill="#f89020" opacity="0.6"/><ellipse cx="599.9" cy="400.4" rx="12.9" ry="3.8" transform="rotate(44.3 599.9 400.4)" fill="#ffb020" opacity="0.6"/><ellipse cx="581.7" cy="419.0" rx="13.0" ry="4.1" transform="rotate(44.3 581.7 419.0)" fill="#f89020" opacity="0.6"/><ellipse cx="606.2" cy="405.5" rx="13.6" ry="4.3" transform="rotate(47.7 606.2 405.5)" fill="#ffd040" opacity="0.6"/><ellipse cx="599.3" cy="411.7" rx="8.4" ry="3.4" transform="rotate(47.7 599.3 411.7)" fill="#ffb020" opacity="0.6"/><ellipse cx="606.5" cy="415.0" rx="9.1" ry="4.9" transform="rotate(50.0 606.5 415.0)" fill="#ffb020" opacity="0.6"/><ellipse cx="606.8" cy="414.8" rx="8.9" ry="5.9" transform="rotate(50.0 606.8 414.8)" fill="#f89020" opacity="0.6"/><ellipse cx="611.4" cy="420.1" rx="11.8" ry="5.7" transform="rotate(52.6 611.4 420.1)" fill="#ffd040" opacity="0.6"/><ellipse cx="604.5" cy="425.4" rx="10.2" ry="4.1" transform="rotate(52.6 604.5 425.4)" fill="#f89020" opacity="0.6"/><ellipse cx="609.9" cy="429.7" rx="12.1" ry="4.3" transform="rotate(56.4 609.9 429.7)" fill="#f89020" opacity="0.6"/><ellipse cx="608.8" cy="430.4" rx="13.6" ry="5.6" transform="rotate(56.4 608.8 430.4)" fill="#f89020" opacity="0.6"/><ellipse cx="614.4" cy="435.0" rx="12.8" ry="5.1" transform="rotate(59.6 614.4 435.0)" fill="#ffd040" opacity="0.6"/><ellipse cx="604.9" cy="440.6" rx="13.5" ry="4.7" transform="rotate(59.6 604.9 440.6)" fill="#ffb020" opacity="0.6"/><ellipse cx="609.5" cy="445.1" rx="9.6" ry="3.3" transform="rotate(61.4 609.5 445.1)" fill="#f89020" opacity="0.6"/><ellipse cx="613.3" cy="443.0" rx="8.2" ry="4.6" transform="rotate(61.4 613.3 443.0)" fill="#ffb020" opacity="0.6"/></g>
<ellipse cx="505" cy="685" rx="65" ry="28" fill="#fff0c0" opacity="0.7" filter="url(#b8)"/>
<ellipse cx="475" cy="670" rx="45" ry="28" fill="#f5d8c8" opacity="0.8" filter="url(#b4)"/>
<ellipse cx="560" cy="735" rx="110" ry="14" fill="#e02828" opacity="0.55" filter="url(#b4)"/>
<g><g transform="translate(436,655) rotate(25.4)"><rect x="-6" y="-13.0" width="92.3" height="26" rx="5" fill="url(#gLog)"/><path d="M1.3,-10.7 q15.4,0.7 30.8,-1.1" stroke="#7a1c1c" stroke-width="1.3" fill="none" opacity="0.8"/><path d="M2.6,4.7 q25.6,-1.9 51.2,-1.3" stroke="#7a1c1c" stroke-width="1.3" fill="none" opacity="0.8"/><path d="M15.5,-1.1 q25.8,-1.6 51.7,-1.4" stroke="#fff0ea" stroke-width="1.1" fill="none" opacity="0.8"/><path d="M14.5,-6.5 q18.9,-1.0 37.9,0.7" stroke="#fff0ea" stroke-width="1.4" fill="none" opacity="0.8"/><path d="M41.0,1.0 q23.1,-0.6 46.2,-0.9" stroke="#fff0ea" stroke-width="0.8" fill="none" opacity="0.8"/></g><g transform="translate(500,660) rotate(30.3)"><rect x="-6" y="-11.0" width="75.5" height="22" rx="5" fill="url(#gLog)"/><path d="M29.6,4.2 q16.0,-1.1 32.0,0.9" stroke="#b04040" stroke-width="1.2" fill="none" opacity="0.8"/><path d="M27.7,-3.0 q13.6,-0.9 27.3,-0.6" stroke="#b04040" stroke-width="1.2" fill="none" opacity="0.8"/><path d="M28.4,2.6 q20.3,1.9 40.6,1.5" stroke="#fff0ea" stroke-width="1.7" fill="none" opacity="0.8"/><path d="M32.3,1.1 q18.6,-0.8 37.2,-1.0" stroke="#7a1c1c" stroke-width="1.7" fill="none" opacity="0.8"/><path d="M22.9,1.8 q8.3,-0.4 16.5,1.2" stroke="#b04040" stroke-width="1.6" fill="none" opacity="0.8"/></g><g transform="translate(438.4,712.4) rotate(24.9)"><rect x="-6" y="-11.0" width="43.0" height="22" rx="5" fill="url(#gLog)"/><path d="M-1.4,6.9 q5.2,-0.7 10.4,-0.3" stroke="#7a1c1c" stroke-width="1.4" fill="none" opacity="0.8"/><path d="M-1.8,-6.9 q11.0,-1.5 22.0,-0.9" stroke="#fff0ea" stroke-width="1.0" fill="none" opacity="0.8"/><path d="M-0.6,8.8 q4.1,0.4 8.3,0.0" stroke="#fff0ea" stroke-width="1.8" fill="none" opacity="0.8"/><path d="M9.3,-0.2 q10.0,-0.1 20.1,0.9" stroke="#b04040" stroke-width="1.5" fill="none" opacity="0.8"/><path d="M13.3,8.5 q5.6,1.1 11.2,1.5" stroke="#fff0ea" stroke-width="1.0" fill="none" opacity="0.8"/><ellipse cx="37.0" cy="0" rx="9.2" ry="11.0" fill="#f8dcd4" stroke="#6a1a1a" stroke-width="1.2"/><ellipse cx="37.0" cy="0" rx="6.2" ry="7.3" fill="none" stroke="#e0a8a0" stroke-width="1"/><ellipse cx="37.0" cy="0" rx="2.6" ry="3.3" fill="none" stroke="#d89890" stroke-width="0.8"/></g><g transform="translate(505,688) rotate(45.0)"><rect x="-6" y="-14.0" width="56.9" height="28" rx="5" fill="url(#gLog)"/><path d="M13.2,-9.7 q9.6,2.0 19.3,-1.1" stroke="#b04040" stroke-width="1.7" fill="none" opacity="0.8"/><path d="M14.1,-10.8 q7.2,-1.2 14.4,1.0" stroke="#fff0ea" stroke-width="1.5" fill="none" opacity="0.8"/><path d="M12.5,1.3 q10.3,0.8 20.6,0.0" stroke="#7a1c1c" stroke-width="1.3" fill="none" opacity="0.8"/><path d="M9.6,5.2 q12.4,-0.1 24.8,-1.1" stroke="#7a1c1c" stroke-width="1.3" fill="none" opacity="0.8"/><path d="M1.6,-3.7 q8.1,-0.5 16.1,0.8" stroke="#7a1c1c" stroke-width="1.7" fill="none" opacity="0.8"/><ellipse cx="50.9" cy="0" rx="11.8" ry="14.0" fill="#f8dcd4" stroke="#6a1a1a" stroke-width="1.2"/><ellipse cx="50.9" cy="0" rx="7.8" ry="9.2" fill="none" stroke="#e0a8a0" stroke-width="1"/><ellipse cx="50.9" cy="0" rx="3.4" ry="4.2" fill="none" stroke="#d89890" stroke-width="0.8"/></g><g transform="translate(552,695) rotate(36.9)"><rect x="-6" y="-9.0" width="46.0" height="18" rx="5" fill="url(#gLog)"/><path d="M6.2,-5.3 q5.1,-0.5 10.3,-0.6" stroke="#fff0ea" stroke-width="1.7" fill="none" opacity="0.8"/><path d="M10.1,-2.7 q11.4,-0.9 22.7,1.3" stroke="#7a1c1c" stroke-width="0.8" fill="none" opacity="0.8"/><path d="M17.5,1.6 q6.1,-1.2 12.1,0.9" stroke="#fff0ea" stroke-width="1.0" fill="none" opacity="0.8"/><path d="M6.6,-6.5 q9.7,-1.0 19.3,-0.5" stroke="#fff0ea" stroke-width="1.5" fill="none" opacity="0.8"/><path d="M14.5,-1.8 q4.5,-1.0 9.1,0.4" stroke="#fff0ea" stroke-width="1.7" fill="none" opacity="0.8"/><ellipse cx="40.0" cy="0" rx="7.6" ry="9.0" fill="#f8dcd4" stroke="#6a1a1a" stroke-width="1.2"/><ellipse cx="40.0" cy="0" rx="5.0" ry="5.9" fill="none" stroke="#e0a8a0" stroke-width="1"/><ellipse cx="40.0" cy="0" rx="2.2" ry="2.7" fill="none" stroke="#d89890" stroke-width="0.8"/></g><g transform="translate(573,678) rotate(42.4)"><rect x="-6" y="-13.0" width="53.4" height="26" rx="5" fill="url(#gLog)"/><path d="M14.1,-1.1 q11.0,-0.3 22.0,-1.3" stroke="#7a1c1c" stroke-width="1.1" fill="none" opacity="0.8"/><path d="M-3.8,-0.6 q4.7,-0.5 9.5,0.8" stroke="#fff0ea" stroke-width="1.7" fill="none" opacity="0.8"/><path d="M4.5,-5.6 q13.2,1.9 26.4,-0.8" stroke="#7a1c1c" stroke-width="1.6" fill="none" opacity="0.8"/><path d="M4.9,0.9 q5.7,0.3 11.3,-0.9" stroke="#fff0ea" stroke-width="1.7" fill="none" opacity="0.8"/><path d="M4.5,-0.2 q9.2,1.8 18.4,-0.7" stroke="#fff0ea" stroke-width="1.2" fill="none" opacity="0.8"/><ellipse cx="47.4" cy="0" rx="10.9" ry="13.0" fill="#f8dcd4" stroke="#6a1a1a" stroke-width="1.2"/><ellipse cx="47.4" cy="0" rx="7.3" ry="8.6" fill="none" stroke="#e0a8a0" stroke-width="1"/><ellipse cx="47.4" cy="0" rx="3.1" ry="3.9" fill="none" stroke="#d89890" stroke-width="0.8"/></g></g>
<g filter="url(#flame)"><path d="M474.2,710.0 C465.3,706.2 468.3,670.8 475.9,636.6 C481.0,670.8 483.0,706.2 474.2,710.0 Z" fill="#fff0c8" opacity="0.6"/>
<path d="M447.7,715.8 C436.1,710.8 442.9,677.1 459.3,645.0 C459.4,677.1 459.3,710.8 447.7,715.8 Z" fill="#ffe8a0" opacity="0.6"/>
<path d="M492.4,702.4 C479.9,697.0 485.4,661.2 498.8,627.2 C503.4,661.2 505.0,697.0 492.4,702.4 Z" fill="#ffd060" opacity="0.6"/>
<path d="M490.0,660.6 C476.3,654.7 479.8,627.6 488.6,602.3 C499.4,627.6 503.7,654.7 490.0,660.6 Z" fill="#fff0c8" opacity="0.6"/>
<path d="M452.3,686.9 C441.2,682.2 446.2,653.8 458.5,626.9 C462.0,653.8 463.3,682.2 452.3,686.9 Z" fill="#ffe8a0" opacity="0.6"/>
<path d="M584.1,708.0 C572.4,703.0 573.4,668.1 576.2,634.9 C590.1,668.1 595.8,703.0 584.1,708.0 Z" fill="#ffe8a0" opacity="0.6"/>
<path d="M514.4,679.2 C502.2,674.0 508.4,633.8 523.3,595.4 C525.8,633.8 526.7,674.0 514.4,679.2 Z" fill="#ffc040" opacity="0.6"/>
<path d="M472.4,673.2 C455.4,666.0 459.9,647.1 471.1,630.7 C484.0,647.1 489.3,666.0 472.4,673.2 Z" fill="#ffc040" opacity="0.6"/>
<path d="M512.2,683.8 C496.5,677.1 504.0,639.5 522.0,604.1 C526.3,639.5 527.8,677.1 512.2,683.8 Z" fill="#ffd060" opacity="0.6"/>
<path d="M508.5,691.8 C495.7,686.3 496.7,649.9 499.8,615.2 C515.1,649.9 521.3,686.3 508.5,691.8 Z" fill="#ffd060" opacity="0.6"/>
<path d="M579.4,710.9 C567.3,705.7 568.8,685.8 572.9,667.7 C586.1,685.8 591.5,705.7 579.4,710.9 Z" fill="#ffd060" opacity="0.6"/>
<path d="M494.5,716.5 C477.9,709.4 483.4,672.6 496.9,638.2 C507.1,672.6 511.1,709.4 494.5,716.5 Z" fill="#ffc040" opacity="0.6"/>
<path d="M494.8,667.8 C483.9,663.1 489.9,640.9 504.6,620.2 C505.6,640.9 505.8,663.1 494.8,667.8 Z" fill="#fff0c8" opacity="0.6"/>
<path d="M458.6,709.3 C447.2,704.4 451.6,670.1 462.6,637.4 C468.0,670.1 470.1,704.4 458.6,709.3 Z" fill="#ffc040" opacity="0.6"/>
<path d="M509.1,664.1 C492.9,657.2 497.8,637.5 510.1,620.1 C521.0,637.5 525.4,657.2 509.1,664.1 Z" fill="#ffc040" opacity="0.6"/>
<path d="M516.3,664.6 C506.4,660.3 507.4,633.0 510.4,607.1 C521.6,633.0 526.2,660.3 516.3,664.6 Z" fill="#ffd060" opacity="0.6"/></g>
<ellipse cx="490" cy="665" rx="50" ry="22" fill="#fff4d0" opacity="0.55" filter="url(#b8)"/>
<g fill="#2a0505" opacity="0.8"><circle cx="640" cy="560" r="1.1"/><circle cx="652" cy="566" r="1.1"/><circle cx="664" cy="571" r="1.1"/><circle cx="676" cy="576" r="1.1"/><circle cx="645" cy="571" r="1.1"/><circle cx="657" cy="577" r="1.1"/><circle cx="669" cy="582" r="1.1"/><circle cx="681" cy="586" r="1.1"/><circle cx="630" cy="566" r="1.1"/><circle cx="688" cy="574" r="1.1"/></g>
<g fill="#e4283a" opacity="0.7"><path d="M484,468 C492,445 510,425 527,415 L523,411 L537,408 L532,422 L529,418 C513,430 496,450 487,470 Z"/><path d="M552,398 C575,405 595,420 608,436 L603,439 L617,446 L613,430 L610,434 C598,417 578,402 554,395 Z"/><path d="M652,462 C668,450 674,430 670,412 L665,414 L673,402 L681,414 L675,413 C680,432 674,455 655,467 Z"/></g>
<g fill="url(#gArrowH)"><path d="M485,534 L497,527 L496,531 C512,529 528,537 544,536 L545,541 C528,542 512,535 497,537 L497,541 Z"/><path d="M556,548 L567,542 L567,546 C582,545 596,552 611,551 L611,556 C596,557 582,550 567,551 L567,555 Z"/><path d="M622,564 L634,557 L634,561 C652,559 670,566 686,572 L684,577 C668,571 652,565 634,566 L634,570 Z"/></g>
</g>
<g clip-path="url(#clipFront)">
<ellipse cx="430" cy="620" rx="45" ry="110" fill="#f06a20" opacity="0.55" filter="url(#b14)"/>
<ellipse cx="425" cy="660" rx="35" ry="50" fill="#ffa030" opacity="0.5" filter="url(#b8)"/>
<g filter="url(#flame)"><path d="M404.8,628.8 C387.4,621.3 393.3,579.7 407.9,540.6 C418.1,579.7 422.1,621.3 404.8,628.8 Z" fill="#f08028" opacity="0.42"/>
<path d="M415.9,646.0 C401.9,640.0 409.3,567.7 427.2,497.5 C429.4,567.7 430.0,640.0 415.9,646.0 Z" fill="#f89a30" opacity="0.42"/>
<path d="M408.6,618.2 C393.1,611.6 393.5,571.1 395.3,532.9 C415.6,571.1 424.0,611.6 408.6,618.2 Z" fill="#f89a30" opacity="0.42"/>
<path d="M387.8,669.8 C376.6,665.1 382.6,609.7 397.2,555.9 C398.6,609.7 399.0,665.1 387.8,669.8 Z" fill="#f89a30" opacity="0.42"/>
<path d="M427.2,690.1 C412.2,683.7 412.0,644.7 412.2,607.8 C433.4,644.7 442.2,683.7 427.2,690.1 Z" fill="#ffb840" opacity="0.42"/>
<path d="M424.8,719.1 C413.3,714.1 418.0,679.6 429.6,646.6 C434.4,679.6 436.3,714.1 424.8,719.1 Z" fill="#ffb840" opacity="0.42"/>
<path d="M408.3,696.6 C396.0,691.3 394.8,656.4 392.5,623.3 C412.3,656.4 420.6,691.3 408.3,696.6 Z" fill="#f89a30" opacity="0.42"/>
<path d="M406.5,679.9 C394.2,674.7 392.0,615.8 387.3,558.7 C409.5,615.8 418.7,674.7 406.5,679.9 Z" fill="#ffb840" opacity="0.42"/>
<path d="M385.1,716.0 C371.4,710.2 372.7,656.1 376.3,604.0 C392.1,656.1 398.7,710.2 385.1,716.0 Z" fill="#f89a30" opacity="0.42"/>
<path d="M437.2,677.5 C427.5,673.3 425.0,624.2 419.9,576.5 C439.0,624.2 447.0,673.3 437.2,677.5 Z" fill="#f89a30" opacity="0.42"/>
<path d="M426.8,684.8 C410.2,677.6 420.8,598.4 446.3,521.6 C444.5,598.4 443.4,677.6 426.8,684.8 Z" fill="#ffb840" opacity="0.42"/>
<path d="M438.2,646.9 C428.9,643.0 431.9,572.6 439.3,503.6 C445.1,572.6 447.4,643.0 438.2,646.9 Z" fill="#f89a30" opacity="0.42"/>
<path d="M442.5,629.1 C426.9,622.4 433.5,566.2 449.7,512.1 C455.8,566.2 458.1,622.4 442.5,629.1 Z" fill="#ffd060" opacity="0.42"/>
<path d="M431.3,608.2 C417.6,602.3 426.6,533.6 448.4,466.8 C446.2,533.6 445.0,602.3 431.3,608.2 Z" fill="#ffb840" opacity="0.42"/></g>
<g filter="url(#flame)"><path d="M396.6,699.1 C400.9,671.3 383.9,651.5 417.8,619.8" fill="none" stroke="#ffd050" stroke-width="1.8" opacity="0.6" stroke-linecap="round"/><path d="M397.7,628.4 C398.2,608.3 396.1,594.0 400.3,571.1" fill="none" stroke="#ffe080" stroke-width="0.9" opacity="0.6" stroke-linecap="round"/><path d="M390.8,663.3 C388.2,643.8 398.7,629.8 377.7,607.5" fill="none" stroke="#ffc040" stroke-width="1.6" opacity="0.6" stroke-linecap="round"/><path d="M409.6,578.9 C411.8,549.3 402.9,528.2 420.6,494.3" fill="none" stroke="#ffd050" stroke-width="1.6" opacity="0.6" stroke-linecap="round"/><path d="M422.8,645.6 C427.5,612.5 408.7,588.8 446.3,550.8" fill="none" stroke="#ffd050" stroke-width="1.8" opacity="0.6" stroke-linecap="round"/><path d="M381.8,651.4 C383.2,604.2 377.6,570.5 388.7,516.6" fill="none" stroke="#ffc040" stroke-width="1.5" opacity="0.6" stroke-linecap="round"/><path d="M435.2,623.7 C439.8,575.6 421.3,541.2 458.3,486.2" fill="none" stroke="#ffe080" stroke-width="1.5" opacity="0.6" stroke-linecap="round"/><path d="M415.7,614.6 C419.9,575.6 403.1,547.8 436.8,503.2" fill="none" stroke="#ffd050" stroke-width="1.2" opacity="0.6" stroke-linecap="round"/><path d="M395.5,618.9 C391.8,594.1 406.8,576.4 376.7,548.1" fill="none" stroke="#ffc040" stroke-width="1.2" opacity="0.6" stroke-linecap="round"/><path d="M415.2,607.0 C417.2,564.4 409.5,533.9 424.8,485.2" fill="none" stroke="#ffe080" stroke-width="1.0" opacity="0.6" stroke-linecap="round"/><path d="M408.2,628.4 C412.2,595.6 396.1,572.3 428.4,534.8" fill="none" stroke="#ffd050" stroke-width="1.0" opacity="0.6" stroke-linecap="round"/><path d="M409.7,705.7 C405.3,662.2 423.1,631.1 387.4,581.4" fill="none" stroke="#ffc040" stroke-width="1.8" opacity="0.6" stroke-linecap="round"/><path d="M412.1,677.4 C411.2,640.0 414.7,613.3 407.7,570.6" fill="none" stroke="#ffd050" stroke-width="1.3" opacity="0.6" stroke-linecap="round"/><path d="M402.0,586.7 C399.2,541.9 410.3,509.9 388.1,458.6" fill="none" stroke="#ffc040" stroke-width="1.5" opacity="0.6" stroke-linecap="round"/><path d="M388.9,661.5 C384.2,627.3 403.1,602.9 365.3,563.8" fill="none" stroke="#ffd050" stroke-width="1.6" opacity="0.6" stroke-linecap="round"/><path d="M413.4,641.5 C415.7,616.2 406.6,598.2 424.7,569.3" fill="none" stroke="#ffe080" stroke-width="1.5" opacity="0.6" stroke-linecap="round"/><path d="M415.2,666.9 C415.9,633.9 413.2,610.4 418.6,572.8" fill="none" stroke="#ffc040" stroke-width="0.9" opacity="0.6" stroke-linecap="round"/><path d="M402.2,602.9 C403.8,582.6 397.4,568.2 410.1,545.0" fill="none" stroke="#ffd050" stroke-width="0.9" opacity="0.6" stroke-linecap="round"/><path d="M398.6,607.2 C399.1,564.3 397.3,533.7 400.9,484.7" fill="none" stroke="#ffd050" stroke-width="1.6" opacity="0.6" stroke-linecap="round"/><path d="M425.1,617.7 C421.0,575.2 437.6,544.8 404.4,496.2" fill="none" stroke="#ffd050" stroke-width="1.3" opacity="0.6" stroke-linecap="round"/><path d="M389.6,630.9 C393.8,605.1 377.2,586.6 410.3,557.1" fill="none" stroke="#ffe080" stroke-width="1.8" opacity="0.6" stroke-linecap="round"/><path d="M398.9,700.0 C402.3,672.6 388.8,653.1 415.8,621.8" fill="none" stroke="#ffe080" stroke-width="1.0" opacity="0.6" stroke-linecap="round"/></g>
<path d="M350,664 L392,656 L433,656 L433,716 L400,707 L352,692 Z" fill="#8a2020" opacity="0.95"/>
<path d="M384,646 L433,646 L433,664 L388,664 Z" fill="#b86030" opacity="0.85"/>
<g><path d="M382.3,709.2 C381.1,706.4 386.0,704.4 376.2,701.2" fill="none" stroke="#f8d0c8" stroke-width="1.2" opacity="0.55" stroke-linecap="round"/><path d="M429.8,681.8 C430.7,678.9 427.1,676.9 434.3,673.7" fill="none" stroke="#ffffff" stroke-width="1.3" opacity="0.55" stroke-linecap="round"/><path d="M411.3,711.6 C412.1,709.0 408.6,707.1 415.6,704.0" fill="none" stroke="#ffffff" stroke-width="1.0" opacity="0.55" stroke-linecap="round"/><path d="M367.2,702.3 C366.5,700.1 369.4,698.6 363.6,696.1" fill="none" stroke="#e89090" stroke-width="0.8" opacity="0.55" stroke-linecap="round"/><path d="M427.5,708.2 C426.8,707.1 429.7,706.3 424.0,705.0" fill="none" stroke="#f8d0c8" stroke-width="0.8" opacity="0.55" stroke-linecap="round"/><path d="M403.5,682.1 C404.6,680.5 400.1,679.4 409.2,677.6" fill="none" stroke="#ffffff" stroke-width="0.9" opacity="0.55" stroke-linecap="round"/><path d="M350.9,681.2 C349.8,679.0 354.2,677.4 345.4,674.8" fill="none" stroke="#e89090" stroke-width="1.0" opacity="0.55" stroke-linecap="round"/><path d="M408.3,686.7 C407.9,683.6 409.5,681.5 406.2,678.0" fill="none" stroke="#ffffff" stroke-width="1.1" opacity="0.55" stroke-linecap="round"/><path d="M403.5,689.0 C404.5,687.5 400.3,686.4 408.7,684.7" fill="none" stroke="#f8d0c8" stroke-width="0.9" opacity="0.55" stroke-linecap="round"/><path d="M377.5,676.7 C376.2,674.7 381.5,673.3 370.9,671.1" fill="none" stroke="#e89090" stroke-width="1.0" opacity="0.55" stroke-linecap="round"/><path d="M386.6,708.0 C387.7,706.8 383.2,706.0 392.1,704.7" fill="none" stroke="#f8d0c8" stroke-width="1.1" opacity="0.55" stroke-linecap="round"/><path d="M385.2,672.1 C386.5,669.2 381.4,667.1 391.6,663.8" fill="none" stroke="#e89090" stroke-width="0.8" opacity="0.55" stroke-linecap="round"/><path d="M411.7,702.8 C413.2,700.0 407.2,698.0 419.2,694.8" fill="none" stroke="#f8d0c8" stroke-width="1.3" opacity="0.55" stroke-linecap="round"/><path d="M395.0,690.6 C394.2,688.7 397.2,687.3 391.3,685.0" fill="none" stroke="#f8d0c8" stroke-width="0.8" opacity="0.55" stroke-linecap="round"/><path d="M414.6,700.2 C415.6,697.2 411.6,695.0 419.7,691.6" fill="none" stroke="#e89090" stroke-width="0.9" opacity="0.55" stroke-linecap="round"/><path d="M376.2,678.0 C376.5,675.4 375.4,673.5 377.6,670.6" fill="none" stroke="#f8d0c8" stroke-width="1.2" opacity="0.55" stroke-linecap="round"/><path d="M390.7,693.6 C390.1,691.1 392.8,689.3 387.4,686.4" fill="none" stroke="#f8d0c8" stroke-width="1.3" opacity="0.55" stroke-linecap="round"/><path d="M401.0,707.9 C401.7,705.9 398.7,704.4 404.7,702.0" fill="none" stroke="#f8d0c8" stroke-width="1.0" opacity="0.55" stroke-linecap="round"/><path d="M359.1,709.5 C360.1,708.2 356.2,707.4 363.9,706.0" fill="none" stroke="#ffffff" stroke-width="1.3" opacity="0.55" stroke-linecap="round"/><path d="M373.7,680.3 C372.5,677.4 377.3,675.4 367.8,672.1" fill="none" stroke="#ffffff" stroke-width="0.8" opacity="0.55" stroke-linecap="round"/><path d="M375.9,668.4 C374.6,666.3 379.9,664.8 369.2,662.4" fill="none" stroke="#e89090" stroke-width="1.1" opacity="0.55" stroke-linecap="round"/><path d="M354.8,685.6 C353.9,684.3 357.7,683.3 350.0,681.7" fill="none" stroke="#ffffff" stroke-width="0.9" opacity="0.55" stroke-linecap="round"/><path d="M428.6,675.3 C430.0,673.6 424.3,672.4 435.7,670.5" fill="none" stroke="#e89090" stroke-width="0.7" opacity="0.55" stroke-linecap="round"/><path d="M408.1,680.1 C408.0,678.6 408.3,677.5 407.8,675.8" fill="none" stroke="#ffffff" stroke-width="0.8" opacity="0.55" stroke-linecap="round"/><path d="M389.8,688.8 C389.8,687.0 390.0,685.7 389.5,683.7" fill="none" stroke="#ffffff" stroke-width="1.2" opacity="0.55" stroke-linecap="round"/><path d="M399.9,683.2 C398.4,680.2 404.5,678.0 392.3,674.6" fill="none" stroke="#f8d0c8" stroke-width="0.9" opacity="0.55" stroke-linecap="round"/><path d="M386.8,711.0 C387.8,707.9 383.8,705.8 391.9,702.3" fill="none" stroke="#ffffff" stroke-width="0.8" opacity="0.55" stroke-linecap="round"/><path d="M375.5,673.6 C374.7,671.9 377.8,670.7 371.6,668.8" fill="none" stroke="#f8d0c8" stroke-width="1.3" opacity="0.55" stroke-linecap="round"/><path d="M363.8,668.3 C364.2,665.9 362.7,664.2 365.7,661.5" fill="none" stroke="#ffffff" stroke-width="1.1" opacity="0.55" stroke-linecap="round"/><path d="M404.0,697.6 C404.3,694.6 403.1,692.5 405.5,689.1" fill="none" stroke="#e89090" stroke-width="1.0" opacity="0.55" stroke-linecap="round"/></g>
<g filter="url(#flame)"><path d="M420.5,695.7 C410.5,691.4 413.6,677.6 421.5,665.3 C428.0,677.6 430.6,691.4 420.5,695.7 Z" fill="#fff0c0" opacity="0.5"/>
<path d="M385.8,685.0 C377.4,681.4 381.8,666.5 392.6,652.8 C393.9,666.5 394.3,681.4 385.8,685.0 Z" fill="#ffd070" opacity="0.5"/>
<path d="M396.3,683.0 C388.8,679.8 388.1,661.8 387.0,644.9 C398.9,661.8 403.8,679.8 396.3,683.0 Z" fill="#ffd070" opacity="0.5"/>
<path d="M394.6,680.3 C384.8,676.1 385.6,652.0 388.1,629.3 C399.7,652.0 404.4,676.1 394.6,680.3 Z" fill="#ffd070" opacity="0.5"/>
<path d="M412.6,716.0 C401.0,711.0 401.6,688.8 403.6,668.3 C418.3,688.8 424.3,711.0 412.6,716.0 Z" fill="#ffd070" opacity="0.5"/>
<path d="M423.2,676.2 C413.9,672.2 414.4,658.4 416.0,645.9 C427.7,658.4 432.5,672.2 423.2,676.2 Z" fill="#ffd070" opacity="0.5"/>
<path d="M421.9,674.8 C411.0,670.1 411.7,651.4 413.8,634.1 C427.3,651.4 432.9,670.1 421.9,674.8 Z" fill="#fff0c0" opacity="0.5"/>
<path d="M399.8,664.9 C388.3,659.9 392.7,642.9 403.4,627.6 C409.1,642.9 411.3,659.9 399.8,664.9 Z" fill="#fff0c0" opacity="0.5"/></g>
</g>

  <polygon points="694.3,588.8 716,588.8 717,751 454,788 452,760 694,726" fill="#847160"/>
  <polygon points="452,790 555,772 576.7,783 602,779 620,765 717,751 720,772 476,806" fill="#1e1e1e"/>
  <polygon points="476,806 688,778 688,787 466,818 466,806" fill="#3a3a3a"/>
  <polygon points="736,622 754,622 780,627 780,631 736,636" fill="#4a4a4a"/>
  <!-- upper steel details -->
  <polygon points="436,317 440.8,316 468.4,321.8 578.4,312.6 587,310 587,338 454,342 436,331" fill="#2a2a2a"/>
  <polygon points="450,326 530,321 580,318 585,330 450,335" fill="#4a4a4a"/>
  <polygon points="509,298.4 585,311 585,318 509,302" fill="#505050"/><path d="M509,298.4 L585,311" stroke="#777" stroke-width="0.8"/>
  <polygon points="455,343 477.6,337.8 556.8,336 553,348.6 553,374 455,382" fill="#222"/>
  <rect x="499" y="342" width="8" height="24" fill="#6a6a6a"/><polygon points="515,352 553,348 553,374 515,377" fill="#303030"/>
  <polygon points="460,358 485,354 485,376 460,380" fill="#3a3a3a"/><polygon points="485,366 530,362 540,370 485,375" fill="#4a4a4a"/>
  <polygon points="436,382 533.4,374 533.4,398 438,408" fill="#2c2c2c"/>
  <polygon points="438,388 533,380 533,392 438,400" fill="#3a3a3a"/>
  <polygon points="553,348.6 600,343.2 632,363 575,390 562,376" fill="#4a1010"/>
  <!-- baffles -->
  <polygon points="583,350 567,370 636,456 652,437" fill="#857562"/>
  <polygon points="550,419 539,444 700,545 712,523" fill="#857562"/>
  <!-- handle -->
  <path d="M378,825 L412.6,822 L425,824" fill="none" stroke="#2a2a2a" stroke-width="4"/>
  <path d="M378,823 L412.6,820" fill="none" stroke="#6a6a6a" stroke-width="1"/>
  <polygon points="438,814 466.6,812 466.6,818 438,821" fill="#2a2a2a"/>
  <!-- bottom front profile -->
  <polygon points="425.5,720 438.8,719.6 453.5,730.8 453.5,800 437,826 425.5,826" fill="#161616"/>
  
</g>

<g id="pipe">
  <linearGradient id="gFl" x1="0" y1="0" x2="1" y2="0"><stop offset="0" stop-color="#3e3e3e"/><stop offset="1" stop-color="#555"/></linearGradient>
  <path d="M528,255 Q540,247 560,246 L607,244 L607,263 Q575,266 545,262 Q530,260 528,255Z" fill="url(#gFl)"/>
  <path d="M528,255 Q545,262 578,264 L607,262.5 L607,265 Q570,268 540,262Z" fill="#777"/>
  <path d="M560,209 L607,209 L607,307 L570,305 Q560,303 560,296 Z" fill="url(#gPipeL)"/>
  <path d="M560,263 Q580,267 607,264 L607,267 Q580,270 560,266Z" fill="#3a3a3a"/><path d="M555,262 Q575,265 588,265" stroke="#9a9a9a" stroke-width="1" fill="none"/>
  <rect x="607" y="206" width="81.4" height="93" fill="url(#gPipeIn)"/>
  <rect x="607" y="235" width="81.4" height="64" fill="url(#gPipeRed)"/>
  <path d="M607,294 Q650,290 688,294 L688,299 L607,299Z" fill="#5a1212" opacity="0.8"/>
  <path d="M560,209 Q570,202 624,202 Q680,202 688.4,207 L688.4,210 Q660,206 624,206 Q590,206 575,212 Q565,216 560,212Z" fill="#2e2e2e"/>
  <path d="M562,210 Q575,204 607,203 L607,215 Q580,216 566,220Z" fill="#3c3c3c"/>
  <path d="M640,291 C630,270 628,250 638,237 L634,237 L644,213 L648,238 L644,237 C636,252 640,270 648,290Z" fill="#a01818" opacity="0.75"/>
  <polygon points="689.7,247 718,253 689.7,255" fill="#484848"/>
  <polygon points="690,287 753.4,297 709,299.5 690,299.5" fill="#484848"/>
</g>

<g fill="none" stroke="#5a3cf0" stroke-width="3.4" stroke-linejoin="miter">
  <path d="M429.4,316 V409.4"/>
  <path d="M434,317 V392.6"/>
  <path d="M429.4,316 H440.8 L468.4,321.8 L578.4,312.6"/>
  <path d="M440.8,316 V329 H451.6"/>
  <path d="M436,331.4 H450.4 V375.8 L436,377"/>
  <path d="M444.4,378.2 V387.8 H451.6"/>
  <path d="M454.6,393.8 V342.2 L477.6,337.8 L556.8,336 L569.4,343"/>
  <path d="M454.6,382 L553,373.8 V348.6 L600,343.2"/>
  <path d="M484.8,357.6 V375.6"/>
  <path d="M438.4,462 V408.2 L533.4,397.5 V377.4"/>
  <path d="M562,348.6 V375.6 L573,388.2"/>
  <path d="M608.5,215 V307.4 L586.6,309 V338 L610,338 L632,364"/>
  <path d="M578,264 L608,262.4"/>
  <path d="M688.2,208 V299 H709 V448 M717,300.5 L754,298"/>
  <path d="M690,255 L718,253.5"/>
  <path d="M753.4,297 V621.5 M736,635 L780,629.5 V775.8"/>
  <path d="M718,424 V769 M720,432 L736,450 V679"/>
  <path d="M686,428 L715,462" stroke-width="4.5"/>
  <path d="M703.8,544.8 L695.7,555.6 V586.5 L717,586.5 M703.8,544.8 H717"/>
  <path d="M452,790 L555,772 L576.7,783 L602,779 L620,765 L717,751"/>
  <path d="M476,806 L778,774"/>
  <path d="M736,738.4 H751.5 V767 L718.5,769"/>
  <path d="M710,778 H749 V788 H710 Z"/>
  <path d="M562,426 L550,419 L539,444"/>
  <path d="M427.2,728 V824.5 H437.4"/>
  <path d="M432.5,740.6 V823"/>
  <path d="M432.5,744.5 H450"/>
  <path d="M438.8,719.6 L451.4,730.8 V790"/>
  <path d="M434.6,784 H449.3 M434.6,807.8 H449.3"/>
  <path d="M444,749 V760 H450"/>
</g>
<rect x="434" y="406" width="3" height="56" fill="#2a2a2a"/>
<path d="M369,428 C366,450 384,472 389,494 L383,491 L395,514 L400,489 L395,492 C391,470 375,450 377,430 Z" fill="url(#gArrowB)"/>
<rect x="432" y="392" width="2.6" height="350" fill="#3e6e62"/>
<path d="M735,738 C722,725 718,710 728,695 C736,682 732,672 727,663 L722,666 L727,644 L737,662 L732,661 C740,672 742,684 734,697 C726,710 730,725 740,735 Z" fill="#8cc0e6" opacity="0.7"/>

<g fill="none" stroke="#f0f0f0" stroke-width="2" stroke-linecap="round">
  <path d="M378,772 L383.3,753 L387.5,778"/>
  <path d="M396.6,743.3 C386,746 387,760 391,768 C394,775 393,782 387.5,784"/>
  <path d="M392,745 C389,752 390,762 393,769"/>
  <path d="M396,758 L405.7,761 M400.8,759.5 V779.5"/>
  <ellipse cx="411.3" cy="773" rx="4.6" ry="9.5" transform="rotate(-8 411.3 773)"/>
  <path d="M418.5,785 V766 L425,786 V768"/>
</g>

<g id="wm" fill="none" stroke="rgba(172,172,172,0.66)" stroke-width="3.6" stroke-linejoin="miter">
  <path d="M12,562 H75 M12,562 L106.5,511 V470 H135 V489 L194,447 L370.7,562 H293"/>
  <path d="M83.8,562 L104.5,520 L125.2,562 M93,548.7 H116"/>
  <path d="M157.5,526.5 C152,520.5 132,519.5 131.5,531 C131,542 157.5,539 158.5,551 C159.5,562.5 138,563 130,555.5"/>
  <path d="M162,521.5 H189.6 M175.8,521.5 V562"/>
  <ellipse cx="219.5" cy="541.5" rx="21" ry="20"/>
  <path d="M251,562 V521 L286,562 V521"/>
</g>
<text x="13" y="590" font-family="Liberation Sans" font-size="25" fill="rgba(90,90,90,0.8)" textLength="352" lengthAdjust="spacingAndGlyphs">производство печей и каминов</text>

<g fill="none" stroke="#111" stroke-width="1.1">
  <path d="M286.6,153.8 L433.9,294.8"/>
  <path d="M767,153.8 L610,396.4 M767,153.8 L614.4,476.4"/>
  <path d="M782,509 L656,543.6"/>
  <path d="M413,937 L372.4,821"/>
  <path d="M599.5,936.6 L328,632 M599.5,936.6 L551,761 M599.5,936.6 L663,661"/>
</g>
<g fill="none" stroke="#7a7a7a" stroke-width="1.6">
  <path d="M96,153.8 H286.6"/>
  <path d="M767,153.8 H946.5"/>
  <path d="M782,509 H963"/>
  <path d="M172,937 H413"/>
  <path d="M599.5,936.6 H870.4"/>
</g>
<g fill="#e6f20e"><circle cx="433.9" cy="294.8" r="10"/><circle cx="610" cy="396.4" r="10"/><circle cx="614.4" cy="476.4" r="10"/><circle cx="656" cy="543.6" r="10"/><circle cx="327.7" cy="632" r="10"/><circle cx="663" cy="661" r="10"/><circle cx="551" cy="761" r="10"/><circle cx="372.4" cy="821" r="10"/></g><g fill="#f01e1e"><circle cx="433.9" cy="294.8" r="4.4"/><circle cx="610" cy="396.4" r="4.4"/><circle cx="614.4" cy="476.4" r="4.4"/><circle cx="656" cy="543.6" r="4.4"/><circle cx="327.7" cy="632" r="4.4"/><circle cx="663" cy="661" r="4.4"/><circle cx="551" cy="761" r="4.4"/><circle cx="372.4" cy="821" r="4.4"/></g>
<g class="lb">
  <text x="59" y="124.5" textLength="284.5" lengthAdjust="spacingAndGlyphs">РУЧКА РЕГУЛИРОВКИ ПОДАЧИ</text>
  <text x="59" y="148.5" textLength="343" lengthAdjust="spacingAndGlyphs">ВОЗДУХА СИСТЕМЫ "ЧИСТЕ СТЕКЛО"</text>
  <text x="773" y="124" textLength="182" lengthAdjust="spacingAndGlyphs">ВЕРМИКУЛИТОВЫЙ</text>
  <text x="773" y="147.5" textLength="159" lengthAdjust="spacingAndGlyphs">ПЛАМЕГАСИТЕЛЬ</text>
  <text x="784" y="504" textLength="172" lengthAdjust="spacingAndGlyphs">ПОДАЧА ВОЗДУХА</text>
  <text x="184.5" y="907.2" textLength="199.5" lengthAdjust="spacingAndGlyphs">РУЧКА РЕГУЛИРОВКИ</text>
  <text x="184.5" y="931" textLength="173" lengthAdjust="spacingAndGlyphs">ПОДАЧИ ВОЗДУХА</text>
  <text x="608.5" y="933" textLength="251.5" lengthAdjust="spacingAndGlyphs">ВЕРМИКУЛИТОВЫЕ ПЛИТЫ</text>
</g>
</svg>
</body></html>
